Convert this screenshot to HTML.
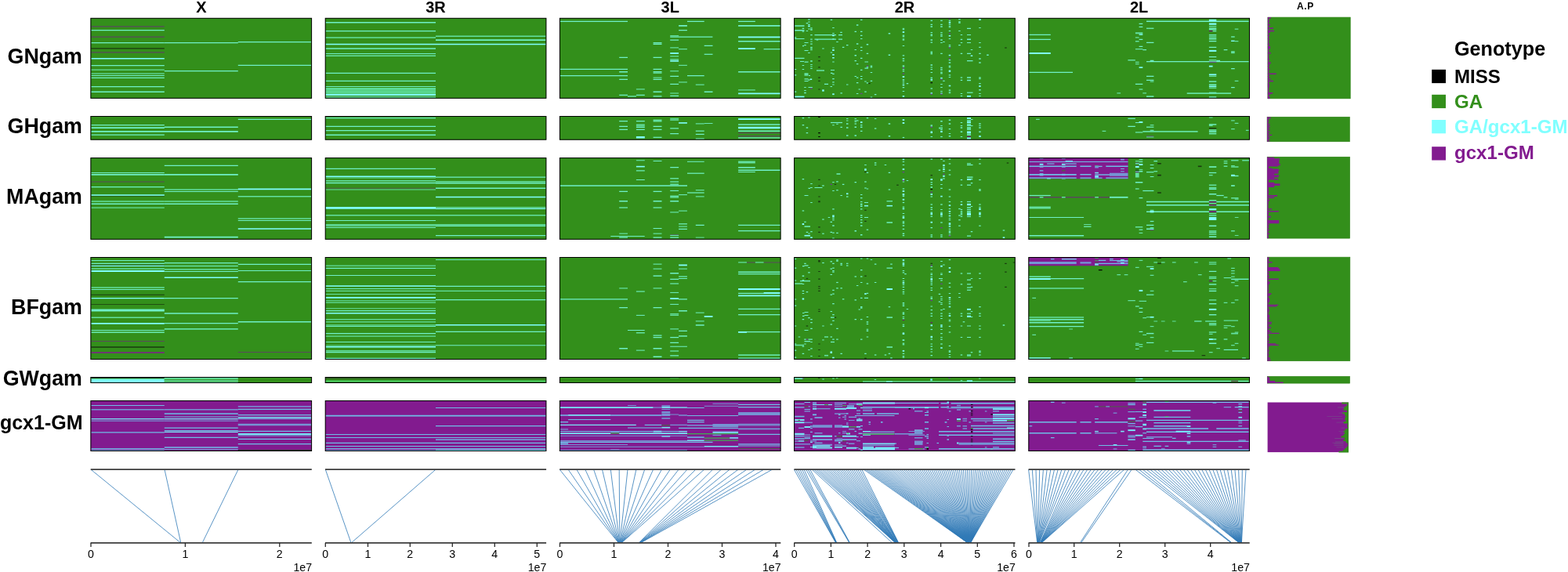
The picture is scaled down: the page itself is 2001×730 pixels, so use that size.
<!DOCTYPE html>
<html lang="en"><head><meta charset="utf-8"><title>Genotype heatmap</title>
<style>html,body{margin:0;padding:0;background:#fff}body{width:2001px;height:730px;overflow:hidden}svg{display:block}text{font-family:"Liberation Sans",sans-serif;fill:#000}.b{font-weight:bold}.t{font-size:14.2px}.rl{font-size:26.8px;font-weight:bold;text-anchor:end}.ct{font-size:20px;font-weight:bold;text-anchor:middle}.lg{font-size:24.1px;font-weight:bold}.bd{fill:none;stroke:#000;stroke-width:1}.ax{stroke:#3c3c3c;stroke-width:1.8;fill:none}.tk{stroke:#2a2a2a;stroke-width:1.3;fill:none}.ln{stroke:#3079b6;stroke-width:1.0;fill:none;stroke-opacity:.8}</style></head><body>
<svg width="2001" height="730" viewBox="0 0 2001 730">
<rect width="2001" height="730" fill="#fff"/>
<text class="ct" x="256.8" y="15.6">X</text>
<text class="ct" x="556" y="15.6">3R</text>
<text class="ct" x="855.2" y="15.6">3L</text>
<text class="ct" x="1154.5" y="15.6">2R</text>
<text class="ct" x="1453.6" y="15.6">2L</text>
<text class="b" x="1666" y="11.8" text-anchor="middle" style="font-size:12px;letter-spacing:.6px">A.P</text>
<text class="rl" x="104.9" y="81.1">GNgam</text>
<text class="rl" x="104.9" y="170.1">GHgam</text>
<text class="rl" x="104.9" y="260.1">MAgam</text>
<text class="rl" x="104.9" y="400.7">BFgam</text>
<text class="rl" x="104.9" y="491.5">GWgam</text>
<text class="rl" x="105.5" y="548.4" style="font-size:25px">gcx1-GM</text>
<g>
<rect x="115.7" y="23.1" width="282.1" height="102.4" fill="#338f1b"/>
<path fill="#5a4a5c" d="M116.3 33.3h93.5v1.2h-93.5z"/>
<path fill="#6ff0c8" d="M116.3 38.1h93.5v1.2h-93.5z"/>
<path fill="#5a4a5c" d="M116.3 46.5h93.5v1.2h-93.5z"/>
<path fill="#6ff0c8" d="M116.3 54h93.5v1.2h-93.5z"/>
<path fill="#1a3a10" d="M116.3 61.3h93.5v1.2h-93.5z"/>
<path fill="#5a4a5c" d="M116.3 66.3h93.5v1.2h-93.5z"/>
<path fill="#80ffff" d="M116.3 74.1h93.5v1.5h-93.5z"/>
<path fill="#6ff0c8" d="M116.3 83h93.5v1.2h-93.5z"/>
<path fill="#63e0a2" d="M116.3 88.5h93.5v1.2h-93.5z"/>
<path fill="#6ff0c8" d="M116.3 93.4h93.5v1.2h-93.5zM116.3 95.9h93.5v1h-93.5zM116.3 98.7h93.5v1.2h-93.5zM116.3 110h93.5v1.2h-93.5zM116.3 116.6h93.5v1.4h-93.5zM209.8 54h94v1.2h-94zM209.8 90.1h94v1.2h-94zM303.8 53h93.5v1.2h-93.5zM303.8 82.8h93.5v1.2h-93.5z"/>
<rect class="bd" x="115.9" y="23.3" width="281.7" height="102"/>
</g>
<g>
<rect x="415" y="23.1" width="282.1" height="102.4" fill="#338f1b"/>
<path fill="#6ff0c8" d="M415.6 28.1h140.4v1.5h-140.4zM415.6 39h140.4v1.2h-140.4z"/>
<path fill="#63e0a2" d="M415.6 47.2h140.4v1.5h-140.4z"/>
<path fill="#80ffff" d="M415.6 55.7h140.4v1.5h-140.4z"/>
<path fill="#6ff0c8" d="M415.6 61.2h140.4v1.6h-140.4zM415.6 67.9h140.4v1h-140.4z"/>
<path fill="#63e0a2" d="M415.6 70.4h140.4v1.5h-140.4z"/>
<path fill="#6ff0c8" d="M415.6 92.8h140.4v1.3h-140.4zM415.6 102.8h140.4v1.3h-140.4zM415.6 110.1h140.4v1h-140.4z"/>
<path fill="#63e0a2" d="M556 45.4h140.6v1.5h-140.6z"/>
<path fill="#6ff0c8" d="M556 50.3h140.6v1.6h-140.6z"/>
<path fill="#80ffff" d="M556 55.7h140.6v1.5h-140.6z"/>
<path fill="#55cf82" d="M415.6 112.1h140.4v7.4h-140.4z"/>
<path fill="#62e6a6" d="M415.6 112.8h140.4v1.3h-140.4z"/>
<path fill="#5cdc96" d="M415.6 115.9h140.4v1h-140.4z"/>
<path fill="#5fe09c" d="M415.6 118.3h140.4v1.1h-140.4z"/>
<path fill="#80ffff" d="M415.6 119.9h140.4v2.2h-140.4z"/>
<path fill="#6ff0c8" d="M415.6 123.2h140.4v1.2h-140.4z"/>
<rect class="bd" x="415.2" y="23.3" width="281.7" height="102"/>
</g>
<g>
<rect x="714.2" y="23.1" width="282.1" height="102.4" fill="#338f1b"/>
<path fill="#6ff0c8" d="M714.2 26.7h86.8v1.2h-86.8zM877 26.7h21.7v1.2h-21.7zM942.1 26.7h21.7v1.2h-21.7zM866.1 32.1h10.8v1.6h-10.8zM942.1 32.1h54.2v1.6h-54.2zM866.1 38h10.8v1.2h-10.8z"/>
<path fill="#63e0a2" d="M855.2 45h10.9v1.2h-10.9z"/>
<path fill="#6ff0c8" d="M855.2 46.4h54.2v1.4h-54.2z"/>
<path fill="#80ffff" d="M942.1 46.5h54.2v1.8h-54.2z"/>
<path fill="#6ff0c8" d="M855.2 50.4h10.9v1.4h-10.9zM942.1 52h54.2v1.4h-54.2zM833.6 54.1h10.9v1.2h-10.9zM833.6 55.7h10.9v1.2h-10.9zM898.7 57.8h10.8v1.2h-10.8z"/>
<path fill="#63e0a2" d="M855.2 60.2h10.9v1.4h-10.9zM866.1 62.1h10.8v1.2h-10.8z"/>
<path fill="#80ffff" d="M942.1 61.2h21.7v1.8h-21.7z"/>
<path fill="#6ff0c8" d="M974.6 62.1h21.7v1.2h-21.7z"/>
<path fill="#80ffff" d="M855.2 67.1h10.9v1.8h-10.9z"/>
<path fill="#6ff0c8" d="M898.7 68.7h10.8v1.2h-10.8z"/>
<path fill="#63e0a2" d="M855.2 71.2h10.9v1.3h-10.9z"/>
<path fill="#6ff0c8" d="M790.2 72.8h10.8v1.2h-10.8zM833.6 72.8h10.9v1.2h-10.9zM855.2 75.3h10.9v1.2h-10.9z"/>
<path fill="#80ffff" d="M855.2 77.1h10.9v1.6h-10.9z"/>
<path fill="#63e0a2" d="M866.1 82.8h10.8v1.2h-10.8z"/>
<path fill="#6ff0c8" d="M714.2 87.8h86.8v1.2h-86.8zM833.6 87.8h10.9v1.2h-10.9z"/>
<path fill="#63e0a2" d="M855.2 90.1h10.9v1.2h-10.9z"/>
<path fill="#6ff0c8" d="M790.2 91.1h10.8v1.3h-10.8zM833.6 91.1h10.9v1.3h-10.9zM942.1 91.1h54.2v1.3h-54.2z"/>
<path fill="#63e0a2" d="M833.6 92.7h10.9v1.2h-10.9z"/>
<path fill="#6ff0c8" d="M714.2 96h86.8v1.2h-86.8zM877 96h21.7v1.2h-21.7zM855.2 96.8h10.9v1.2h-10.9z"/>
<path fill="#63e0a2" d="M833.6 98.5h10.9v1.2h-10.9z"/>
<path fill="#6ff0c8" d="M790.2 100.8h10.8v1.2h-10.8zM833.6 100.8h10.9v1.2h-10.9z"/>
<path fill="#63e0a2" d="M866.1 104.3h10.8v1.2h-10.8z"/>
<path fill="#6ff0c8" d="M855.2 106.8h10.9v1.2h-10.9z"/>
<path fill="#63e0a2" d="M887.8 107.5h10.9v1.2h-10.9zM811.9 113.3h10.9v1.3h-10.9zM942.1 114.3h21.7v1.2h-21.7z"/>
<path fill="#6ff0c8" d="M833.6 116.6h10.9v1.3h-10.9zM898.7 116.6h10.8v1.3h-10.8z"/>
<path fill="#63e0a2" d="M855.2 118.4h10.9v1.2h-10.9z"/>
<path fill="#80ffff" d="M942.1 118.4h54.2v1.8h-54.2z"/>
<path fill="#6ff0c8" d="M790.2 120.8h10.8v1.2h-10.8zM811.9 120.8h10.9v1.2h-10.9z"/>
<path fill="#63e0a2" d="M801 122.2h10.9v1.5h-10.9z"/>
<path fill="#6ff0c8" d="M833.6 122.3h10.9v1.3h-10.9zM855.2 121.7h10.9v1.2h-10.9z"/>
<rect class="bd" x="714.4" y="23.3" width="281.7" height="102"/>
</g>
<g>
<rect x="1013.4" y="23.1" width="282.1" height="102.4" fill="#338f1b"/>
<path fill="#6ff0c8" d="M1014.2 32.2h12.3v1.6h-12.3zM1014.2 38.1h12.3v1.4h-12.3zM1014.2 48.9h12.3v1.2h-12.3zM1014.2 73.8h12.3v1.2h-12.3zM1013.9 47.2h2.4v1.2h-2.4zM1013.9 87.9h2.4v1.2h-2.4zM1039.5 44h27.5v1.2h-27.5zM1039.5 49.6h27.5v1.2h-27.5zM1070 44h5v1.2h-5zM1070 49.6h5v1.2h-5zM1026.5 53.9h5v1.2h-5zM1026.5 63.9h5v1.2h-5zM1026.5 78.5h5v1.2h-5zM1024 58.1h2v1.2h-2zM1026.2 57h2.5v1.2h-2.5zM1021 77.9h5v1.2h-5z"/>
<path fill="#63e0a2" d="M1042 89.2h10v1.6h-10z"/>
<path fill="#6ff0c8" d="M1103.5 78.4h4.5v1.2h-4.5zM1103.5 86.6h4.5v1.2h-4.5zM1060 88.9h5v1.2h-5zM1023.7 35.7h2.5v1.2h-2.5zM1023.7 39.6h2.5v1.2h-2.5zM1023.7 82.9h2.5v1.2h-2.5zM1023.7 87.9h2.5v1.2h-2.5zM1028.7 29.1h2.5v1.2h-2.5zM1028.7 38.9h2.5v1.2h-2.5zM1031.2 24.2h2.5v1.2h-2.5zM1031.2 27.4h2.5v1.2h-2.5zM1031.2 30.8h2.5v1.5h-2.5z"/>
<path fill="#80ffff" d="M1031.2 32.7h2.5v1.6h-2.5z"/>
<path fill="#6ff0c8" d="M1031.2 36.4h2.5v1.2h-2.5zM1031.2 66.9h2.5v1.2h-2.5zM1034.2 35.2h2.5v1.2h-2.5z"/>
<path fill="#63e0a2" d="M1034.2 37h2.5v2h-2.5z"/>
<path fill="#6ff0c8" d="M1034.2 44h2.5v1.2h-2.5zM1034.2 49.6h2.5v1.2h-2.5zM1034.2 52.4h2.5v1.2h-2.5zM1034.2 55.6h2.5v1.2h-2.5z"/>
<path fill="#63e0a2" d="M1034.2 59.8h2.5v2.5h-2.5zM1034.2 62.8h2.5v1.5h-2.5zM1034.2 77h2.5v2h-2.5z"/>
<path fill="#6ff0c8" d="M1034.2 81.9h2.5v1.2h-2.5zM1034.2 84.4h2.5v1.2h-2.5zM1034.2 86.9h2.5v1.2h-2.5z"/>
<path fill="#1a3a10" d="M1044.2 72h2.5v1.2h-2.5zM1044.2 77h2.5v1.2h-2.5zM1044.2 85.2h2.5v1.2h-2.5z"/>
<path fill="#6ff0c8" d="M1041.7 50.2h2.5v1.2h-2.5zM1049.2 61.4h2.5v1.2h-2.5zM1059.7 24.8h2.5v1.2h-2.5zM1059.7 66.4h2.5v1.2h-2.5zM1062.2 34.9h2.5v1.2h-2.5zM1062.2 41.9h2.5v1.2h-2.5z"/>
<path fill="#80ffff" d="M1062.2 44.4h2.5v1.8h-2.5z"/>
<path fill="#6ff0c8" d="M1062.2 49.2h2.5v1.2h-2.5zM1062.2 60.4h2.5v1.2h-2.5z"/>
<path fill="#80ffff" d="M1062.2 63.1h2.5v1.8h-2.5zM1062.2 68.9h2.5v1.8h-2.5zM1062.2 73h2.5v1.6h-2.5z"/>
<path fill="#6ff0c8" d="M1062.2 78.4h2.5v1.2h-2.5zM1067.2 52.9h2.5v1.2h-2.5zM1072.2 40.7h2.5v1.2h-2.5zM1074.9 59.7h2.5v1.2h-2.5zM1080 57h2.5v1.2h-2.5zM1090.5 39.7h2.5v1.2h-2.5zM1090.5 62.9h2.5v1.2h-2.5zM1090.5 70h2.5v1.6h-2.5zM1090.5 77h2.5v1.2h-2.5zM1092.9 31.2h2.5v1.6h-2.5zM1092.9 55.2h2.5v1.5h-2.5zM1092.9 81h2.5v1.2h-2.5zM1098 24.8h2.5v1.2h-2.5zM1098 39.7h2.5v1.2h-2.5zM1098 44.7h2.5v1.2h-2.5zM1098 48.9h2.5v1.2h-2.5zM1098 59.7h2.5v1.2h-2.5zM1098 63.9h2.5v1.2h-2.5zM1098 73.8h2.5v1.2h-2.5zM1098 88.7h2.5v1.2h-2.5zM1105.7 55.9h2.5v1.6h-2.5zM1105.7 67.8h2.5v1.2h-2.5z"/>
<path fill="#6d3f95" d="M1105.7 83.6h2.5v1.2h-2.5z"/>
<path fill="#6ff0c8" d="M1105.7 85.2h2.5v1.2h-2.5z"/>
<path fill="#63e0a2" d="M1110.7 83.5h2.5v3h-2.5z"/>
<path fill="#6ff0c8" d="M1110.7 91.9h2.5v1.2h-2.5zM1133.7 41.9h2.5v1.6h-2.5zM1133.7 69.5h2.5v1.4h-2.5z"/>
<path fill="#63e0a2" d="M1151.7 35.8h2.5v2.5h-2.5z"/>
<path fill="#80ffff" d="M1151.7 40.1h2.5v1.8h-2.5z"/>
<path fill="#63e0a2" d="M1151.7 44.5h2.5v3h-2.5zM1151.7 49.2h2.5v2.5h-2.5z"/>
<path fill="#6ff0c8" d="M1151.7 57.9h2.5v1.2h-2.5zM1151.7 70.2h2.5v1.2h-2.5zM1151.7 74.2h2.5v1.6h-2.5zM1151.7 77h2.5v1.2h-2.5z"/>
<path fill="#63e0a2" d="M1151.7 83.2h2.5v2.5h-2.5z"/>
<path fill="#6d3f95" d="M1151.7 86.1h2.5v1.2h-2.5z"/>
<path fill="#6ff0c8" d="M1151.7 87.9h2.5v1.2h-2.5zM1151.7 90.1h2.5v1.2h-2.5zM1187.5 25.7h2.5v1.2h-2.5zM1187.5 30.7h2.5v1.2h-2.5zM1187.5 33.2h2.5v1.6h-2.5zM1187.5 40.9h2.5v1.2h-2.5z"/>
<path fill="#63e0a2" d="M1187.5 43.3h2.5v3h-2.5z"/>
<path fill="#6ff0c8" d="M1187.5 50.2h2.5v1.6h-2.5zM1187.5 53.6h2.5v1.2h-2.5z"/>
<path fill="#63e0a2" d="M1187.5 65.5h2.5v4h-2.5z"/>
<path fill="#6ff0c8" d="M1187.5 82.2h2.5v1.6h-2.5zM1187.5 85.4h2.5v1.2h-2.5zM1187.5 87.9h2.5v1.2h-2.5zM1187.5 91.9h2.5v1.2h-2.5zM1200.2 25.7h2.5v1.2h-2.5zM1200.2 30.7h2.5v1.2h-2.5zM1200.2 33.2h2.5v1.6h-2.5zM1200.2 40.9h2.5v1.2h-2.5zM1200.2 43.2h2.5v1.2h-2.5zM1200.2 45.2h2.5v1.5h-2.5zM1200.2 50.2h2.5v1.6h-2.5zM1200.2 53.9h2.5v1.2h-2.5zM1200.2 67.8h2.5v1.2h-2.5zM1200.2 85.7h2.5v1.6h-2.5zM1200.2 88.2h2.5v1.6h-2.5z"/>
<path fill="#63e0a2" d="M1200.2 91.5h2.5v3h-2.5z"/>
<path fill="#6ff0c8" d="M1203.2 52.9h2.5v1.2h-2.5zM1013.9 95.2h2.4v1.2h-2.4zM1013.9 116.6h2.4v1.2h-2.4z"/>
<path fill="#80ffff" d="M1014.2 122.6h12.3v1.8h-12.3z"/>
<path fill="#63e0a2" d="M1026.5 93.2h5v3.5h-5z"/>
<path fill="#6ff0c8" d="M1026.5 100.2h5v1.2h-5zM1026.5 102.9h5v1.2h-5zM1032 95.9h2v1.2h-2z"/>
<path fill="#80ffff" d="M1033.7 100.4h2.5v1.6h-2.5z"/>
<path fill="#6ff0c8" d="M1031.2 101.4h2.5v1.2h-2.5z"/>
<path fill="#1a3a10" d="M1044.2 98.5h2.5v1.2h-2.5zM1044.2 102.7h2.5v1.2h-2.5zM1044.2 113.4h2.5v1.2h-2.5z"/>
<path fill="#6ff0c8" d="M1052 106.7h5v1.2h-5zM1060 92.7h2.5v1.2h-2.5zM1062.2 93.7h2.5v1.2h-2.5zM1062.2 100.1h2.5v1.2h-2.5zM1062.2 104.2h2.5v1.2h-2.5zM1062.2 107.4h2.5v1.2h-2.5z"/>
<path fill="#80ffff" d="M1062.2 119.3h2.5v1.8h-2.5z"/>
<path fill="#6ff0c8" d="M1059.5 109.9h2.5v1.2h-2.5zM1026.2 110.9h2.5v1.2h-2.5zM1026.2 114.9h2.5v1.2h-2.5zM1026.2 117.7h2.5v1.6h-2.5zM1031.5 110.9h5.3v1.2h-5.3z"/>
<path fill="#6d3f95" d="M1034.2 112.4h2.5v1.2h-2.5z"/>
<path fill="#80ffff" d="M1049.2 114.3h2.5v2.4h-2.5z"/>
<path fill="#6ff0c8" d="M1072.4 118.2h2.5v1.2h-2.5zM1080 107.4h2.5v1.2h-2.5zM1090.5 96.9h2.5v1.2h-2.5zM1092.9 98.5h2.5v1.2h-2.5zM1092.9 105h2.5v1.2h-2.5zM1092.9 118.9h2.5v1.2h-2.5zM1098 96.9h2.5v1.2h-2.5zM1098 100.1h2.5v1.2h-2.5z"/>
<path fill="#6d3f95" d="M1098 118.9h2.5v1.2h-2.5z"/>
<path fill="#6ff0c8" d="M1095.5 113.4h2.5v1.2h-2.5zM1103.2 103.4h2.5v1.2h-2.5zM1103.2 116.6h2.5v1.2h-2.5zM1105.7 105.2h2.5v1.2h-2.5z"/>
<path fill="#1a3a10" d="M1108.2 105.9h2.5v1.2h-2.5z"/>
<path fill="#6ff0c8" d="M1110.7 102.7h2.5v1.2h-2.5zM1110.7 123.4h2.5v1.2h-2.5zM1115.9 120h2.5v1.2h-2.5z"/>
<path fill="#6d3f95" d="M1151.7 93.4h2.5v1.2h-2.5z"/>
<path fill="#80ffff" d="M1151.7 97h2.5v2h-2.5z"/>
<path fill="#6ff0c8" d="M1151.7 100.9h2.5v1.2h-2.5zM1151.7 102.7h2.5v1.2h-2.5zM1151.7 105.2h2.5v1.2h-2.5z"/>
<path fill="#80ffff" d="M1151.7 107.7h2.5v1.6h-2.5z"/>
<path fill="#6ff0c8" d="M1151.7 111h2.5v1.2h-2.5zM1151.7 115.9h2.5v1.2h-2.5z"/>
<path fill="#80ffff" d="M1151.7 122h2.5v1.6h-2.5z"/>
<path fill="#6ff0c8" d="M1156.7 106h2.5v1.2h-2.5zM1187.5 98.7h2.5v1.2h-2.5z"/>
<path fill="#80ffff" d="M1187.5 100.8h2.5v2h-2.5z"/>
<path fill="#000000" d="M1187.5 105h2.5v1.2h-2.5z"/>
<path fill="#6ff0c8" d="M1187.5 112.4h2.5v1.2h-2.5z"/>
<path fill="#80ffff" d="M1187.5 118.2h2.5v1.5h-2.5z"/>
<path fill="#6d3f95" d="M1187.5 119.6h2.5v1.2h-2.5z"/>
<path fill="#80ffff" d="M1200.2 98.9h2.5v1.6h-2.5z"/>
<path fill="#6d3f95" d="M1200.2 100.9h2.5v1.2h-2.5z"/>
<path fill="#6ff0c8" d="M1200.2 106.9h2.5v1.2h-2.5zM1200.2 110.9h2.5v1.2h-2.5zM1200.2 115.9h2.5v1.2h-2.5z"/>
<path fill="#80ffff" d="M1200.2 118.4h2.5v1.2h-2.5z"/>
<path fill="#6d3f95" d="M1200.2 119.6h2.5v1.2h-2.5z"/>
<path fill="#6ff0c8" d="M1203.2 102.7h2.5v1.2h-2.5z"/>
<path fill="#6d3f95" d="M1210.7 23.6h2.5v1.2h-2.5z"/>
<path fill="#6ff0c8" d="M1210.7 25.9h2.5v1.2h-2.5z"/>
<path fill="#80ffff" d="M1210.7 27.8h2.5v2h-2.5z"/>
<path fill="#6ff0c8" d="M1210.7 30.7h2.5v1.2h-2.5z"/>
<path fill="#63e0a2" d="M1210.7 32.8h2.5v2.5h-2.5z"/>
<path fill="#6ff0c8" d="M1210.7 38.9h2.5v1.2h-2.5z"/>
<path fill="#6d3f95" d="M1210.7 42.1h2.5v1.2h-2.5z"/>
<path fill="#80ffff" d="M1210.7 44.9h2.5v1.6h-2.5z"/>
<path fill="#6ff0c8" d="M1210.7 48.9h2.5v1.2h-2.5zM1210.7 56.9h2.5v1.2h-2.5zM1210.7 58.7h2.5v1.2h-2.5z"/>
<path fill="#6d3f95" d="M1210.7 60.4h2.5v1.2h-2.5z"/>
<path fill="#80ffff" d="M1210.7 69.8h2.5v1.5h-2.5z"/>
<path fill="#6d3f95" d="M1210.7 74.4h2.5v1.2h-2.5z"/>
<path fill="#6ff0c8" d="M1210.7 76.1h2.5v1.2h-2.5zM1210.7 79.2h2.5v1.5h-2.5z"/>
<path fill="#63e0a2" d="M1210.7 83.5h2.5v3h-2.5z"/>
<path fill="#80ffff" d="M1210.7 89.5h2.5v2.4h-2.5z"/>
<path fill="#6ff0c8" d="M1223.2 24.1h2.5v1.2h-2.5z"/>
<path fill="#63e0a2" d="M1223.2 27h2.5v3h-2.5z"/>
<path fill="#6ff0c8" d="M1223.2 38.9h2.5v1.2h-2.5zM1223.2 57.1h2.5v1.2h-2.5zM1225.7 43.9h2.5v1.2h-2.5zM1225.7 49.7h2.5v1.2h-2.5zM1225.7 53.9h2.5v1.2h-2.5zM1225.7 67.8h2.5v1.2h-2.5zM1234 35.7h5v1.2h-5zM1234 43.9h5v1.2h-5zM1234 49.5h5v1.5h-5zM1234 53.9h5v1.2h-5zM1234 67.8h5v1.2h-5zM1234 77h7.5v1.2h-7.5zM1238.7 62.9h2.5v1.2h-2.5z"/>
<path fill="#80ffff" d="M1238.7 70.5h2.5v1.6h-2.5zM1249.2 24.1h2.5v1.8h-2.5z"/>
<path fill="#6ff0c8" d="M1249.2 34.9h2.5v1.2h-2.5zM1249.2 53.9h2.5v1.2h-2.5zM1249.2 59.7h2.5v1.2h-2.5zM1249.2 67.8h2.5v1.2h-2.5zM1249.2 74.2h2.5v1.5h-2.5zM1249.2 79.2h2.5v1.5h-2.5zM1259.2 69.5h2.5v1.5h-2.5z"/>
<path fill="#1a3a10" d="M1282.2 60.4h2.5v1.2h-2.5z"/>
<path fill="#6ff0c8" d="M1210.7 95.2h2.5v1.2h-2.5zM1210.7 97.9h2.5v1.2h-2.5z"/>
<path fill="#80ffff" d="M1210.7 108.7h2.5v1.6h-2.5z"/>
<path fill="#63e0a2" d="M1210.7 114.3h2.5v2h-2.5zM1210.7 117.2h2.5v2h-2.5zM1225.7 98.3h2.5v1.5h-2.5z"/>
<path fill="#6ff0c8" d="M1225.7 101.8h2.5v1.2h-2.5zM1225.7 118.9h2.5v1.2h-2.5zM1225.7 121.9h2.5v1.2h-2.5zM1234 98.3h5v1.5h-5zM1234 101.7h5v1.5h-5z"/>
<path fill="#80ffff" d="M1234 121.9h5v1.8h-5z"/>
<path fill="#63e0a2" d="M1234 117.4h7.5v1.6h-7.5zM1249.2 98.3h2.5v3h-2.5z"/>
<path fill="#6ff0c8" d="M1249.2 106h2.5v1.2h-2.5z"/>
<path fill="#80ffff" d="M1249.2 109.1h2.5v1.8h-2.5z"/>
<path fill="#6ff0c8" d="M1249.2 114h2.5v1.5h-2.5zM1249.2 118.9h2.5v1.2h-2.5zM1249.2 121.9h2.5v1.2h-2.5z"/>
<rect class="bd" x="1013.6" y="23.3" width="281.7" height="102"/>
</g>
<g>
<rect x="1312.6" y="23.1" width="282.1" height="102.4" fill="#338f1b"/>
<path fill="#6ff0c8" d="M1313.1 43.8h27.7v1.2h-27.7zM1313.1 49.7h27.7v1.2h-27.7z"/>
<path fill="#80ffff" d="M1313.1 67h27.7v2h-27.7z"/>
<path fill="#6ff0c8" d="M1313.1 91.8h55.9v1.2h-55.9z"/>
<path fill="#63e0a2" d="M1425.4 118.3h4.7v1.2h-4.7zM1439.4 76h9.4v1.4h-9.4zM1448.9 47.2h4.7v1.4h-4.7zM1448.9 52h4.7v1.4h-4.7zM1448.9 78.7h4.7v1.2h-4.7zM1448.9 81h4.7v1.2h-4.7zM1448.9 41.3h9.4v2h-9.4zM1448.9 62.1h9.4v1.2h-9.4z"/>
<path fill="#6ff0c8" d="M1448.9 106.8h9.4v1.2h-9.4zM1453.6 29.8h4.7v1.2h-4.7zM1453.6 33.8h4.7v1.2h-4.7z"/>
<path fill="#80ffff" d="M1453.6 43.4h4.7v1.4h-4.7z"/>
<path fill="#6ff0c8" d="M1453.6 49.7h4.7v1.2h-4.7zM1453.6 58.8h4.7v1.2h-4.7z"/>
<path fill="#80ffff" d="M1453.6 85.3h4.7v1.6h-4.7z"/>
<path fill="#63e0a2" d="M1453.6 113.3h4.7v1.4h-4.7z"/>
<path fill="#6ff0c8" d="M1458.3 63h4.7v1.2h-4.7z"/>
<path fill="#63e0a2" d="M1458.3 118.3h4.7v1.2h-4.7zM1463 35.6h9.4v1.4h-9.4z"/>
<path fill="#6ff0c8" d="M1463 53.8h9.4v1.2h-9.4zM1463 96.8h9.4v1.2h-9.4zM1463 101.8h9.4v1.2h-9.4z"/>
<path fill="#63e0a2" d="M1463 122.3h9.4v1.6h-9.4zM1467.7 103.5h4.7v1.2h-4.7z"/>
<path fill="#6ff0c8" d="M1467.7 76.8h4.7v1.2h-4.7zM1463 26.6h130.6v1.4h-130.6zM1463 78h130.6v1.2h-130.6z"/>
<path fill="#80ffff" d="M1542.9 24.7h9.4v2.6h-9.4zM1542.9 29.4h9.4v2.4h-9.4z"/>
<path fill="#63e0a2" d="M1542.9 33.1h9.4v1.2h-9.4zM1542.9 35.3h9.4v2h-9.4z"/>
<path fill="#6ff0c8" d="M1542.9 37.1h9.4v1.2h-9.4zM1542.9 43.9h9.4v1.4h-9.4z"/>
<path fill="#63e0a2" d="M1542.9 46h9.4v1.2h-9.4z"/>
<path fill="#6ff0c8" d="M1542.9 48h9.4v1.4h-9.4z"/>
<path fill="#63e0a2" d="M1542.9 49.7h9.4v1.2h-9.4z"/>
<path fill="#6ff0c8" d="M1542.9 52.1h9.4v1.2h-9.4zM1542.9 59.7h9.4v1.2h-9.4z"/>
<path fill="#80ffff" d="M1542.9 63.9h9.4v2h-9.4z"/>
<path fill="#6ff0c8" d="M1542.9 72h9.4v1.2h-9.4z"/>
<path fill="#63e0a2" d="M1542.9 76h9.4v1.4h-9.4z"/>
<path fill="#80ffff" d="M1542.9 94.4h9.4v1.8h-9.4z"/>
<path fill="#63e0a2" d="M1542.9 96.8h9.4v1.2h-9.4z"/>
<path fill="#6ff0c8" d="M1542.9 103.4h9.4v1.4h-9.4z"/>
<path fill="#63e0a2" d="M1542.9 107.1h9.4v2h-9.4z"/>
<path fill="#80ffff" d="M1542.9 109.5h9.4v1.6h-9.4z"/>
<path fill="#63e0a2" d="M1542.9 111.7h9.4v1.2h-9.4z"/>
<path fill="#80ffff" d="M1542.9 117.7h9.4v1.4h-9.4z"/>
<path fill="#6ff0c8" d="M1542.9 123.2h9.4v1.4h-9.4z"/>
<path fill="#6a1a6a" d="M1542.9 39h4.7v1.2h-4.7z"/>
<path fill="#80ffff" d="M1542.9 83.7h4.7v1.8h-4.7z"/>
<path fill="#6ff0c8" d="M1547.6 39h4.7v1.2h-4.7z"/>
<path fill="#6d3f95" d="M1542.9 78.8h9.4v1h-9.4z"/>
<path fill="#6ff0c8" d="M1552.3 76.8h4.7v1.2h-4.7z"/>
<path fill="#63e0a2" d="M1514.7 118.3h56.4v1.6h-56.4z"/>
<path fill="#6ff0c8" d="M1561.7 63h4.7v1.2h-4.7z"/>
<path fill="#63e0a2" d="M1571.1 46.2h4.6v1.6h-4.6z"/>
<path fill="#80ffff" d="M1571.1 51.6h4.6v1.4h-4.6z"/>
<path fill="#63e0a2" d="M1571.1 65.2h4.6v3h-4.6z"/>
<path fill="#6ff0c8" d="M1571.1 87h4.6v1.2h-4.6zM1571.1 111h4.6v1.2h-4.6z"/>
<path fill="#63e0a2" d="M1575.7 36.4h4.7v1.4h-4.7zM1575.7 52.1h4.7v1.2h-4.7zM1575.7 102.8h4.7v1.2h-4.7z"/>
<rect class="bd" x="1312.8" y="23.3" width="281.7" height="102"/>
</g>
<g>
<rect x="115.7" y="148.3" width="282.1" height="30.1" fill="#338f1b"/>
<path fill="#6ff0c8" d="M116.3 159.1h93.5v1.2h-93.5zM116.3 162.3h93.5v1.6h-93.5zM116.3 167.1h93.5v1.6h-93.5zM116.3 171.5h93.5v1.2h-93.5zM209.8 161.5h94v1.6h-94zM209.8 167.1h94v1.6h-94zM303.8 151.8h93.5v1.2h-93.5z"/>
<rect class="bd" x="115.9" y="148.5" width="281.7" height="29.7"/>
</g>
<g>
<rect x="415" y="148.3" width="282.1" height="30.1" fill="#338f1b"/>
<path fill="#6ff0c8" d="M415.6 150h140.4v1.2h-140.4zM415.6 160.8h140.4v1.2h-140.4zM415.6 165.9h140.4v1.3h-140.4zM415.6 171.4h140.4v1.5h-140.4z"/>
<rect class="bd" x="415.2" y="148.5" width="281.7" height="29.7"/>
</g>
<g>
<rect x="714.2" y="148.3" width="282.1" height="30.1" fill="#338f1b"/>
<path fill="#6ff0c8" d="M790.2 154.1h10.8v1.2h-10.8zM811.9 154.1h10.9v1.2h-10.9zM790.2 160.8h10.8v1.2h-10.8zM833.6 160.8h10.9v1.2h-10.9zM790.2 164.8h10.8v1.2h-10.8zM811.9 164.8h10.9v1.2h-10.9zM833.6 164.8h10.9v1.2h-10.9z"/>
<path fill="#63e0a2" d="M811.9 158.6h10.9v1.4h-10.9zM811.9 160.3h10.9v1.2h-10.9z"/>
<path fill="#6ff0c8" d="M811.9 161.8h10.9v1.2h-10.9z"/>
<path fill="#80ffff" d="M811.9 174h10.9v2.5h-10.9z"/>
<path fill="#63e0a2" d="M833.6 152.5h10.9v3h-10.9z"/>
<path fill="#6ff0c8" d="M833.6 174.7h10.9v1.2h-10.9z"/>
<path fill="#63e0a2" d="M855.2 150.8h10.9v1.2h-10.9z"/>
<path fill="#6ff0c8" d="M855.2 152.5h10.9v1.2h-10.9z"/>
<path fill="#63e0a2" d="M855.2 163.1h10.9v1.5h-10.9z"/>
<path fill="#6ff0c8" d="M855.2 170h10.9v1.2h-10.9z"/>
<path fill="#80ffff" d="M866.1 156.1h10.8v1.6h-10.8z"/>
<path fill="#63e0a2" d="M887.8 157.3h10.9v1.3h-10.9zM887.8 166.6h10.9v1.3h-10.9z"/>
<path fill="#6ff0c8" d="M887.8 170.8h10.9v1.2h-10.9z"/>
<path fill="#63e0a2" d="M887.8 176.3h10.9v1.4h-10.9z"/>
<path fill="#6ff0c8" d="M898.7 157h10.8v0.9h-10.8z"/>
<path fill="#80ffff" d="M942.1 150.9h54.2v2h-54.2z"/>
<path fill="#6ff0c8" d="M942.1 158.2h54.2v1.6h-54.2z"/>
<path fill="#80ffff" d="M942.1 161.7h54.2v2.6h-54.2z"/>
<path fill="#6ff0c8" d="M942.1 166.6h54.2v1.4h-54.2z"/>
<path fill="#5a4a5c" d="M942.1 169h54.2v1.2h-54.2zM942.1 173.1h54.2v1.2h-54.2z"/>
<path fill="#6ff0c8" d="M942.1 175.2h54.2v1.4h-54.2z"/>
<rect class="bd" x="714.4" y="148.5" width="281.7" height="29.7"/>
</g>
<g>
<rect x="1013.4" y="148.3" width="282.1" height="30.1" fill="#338f1b"/>
<path fill="#6ff0c8" d="M1023.7 150h2.5v1.2h-2.5zM1023.7 159.1h2.5v1.2h-2.5zM1028.7 162.2h2.5v1.5h-2.5zM1028.7 169.1h2.5v1.2h-2.5z"/>
<path fill="#63e0a2" d="M1031.2 149.4h2.5v1.2h-2.5z"/>
<path fill="#000000" d="M1044.2 148.9h2.5v1.2h-2.5zM1044.2 169.1h2.5v1.2h-2.5zM1044.2 173.9h2.5v1.2h-2.5z"/>
<path fill="#6ff0c8" d="M1060 155.9h15v1.2h-15z"/>
<path fill="#63e0a2" d="M1062.2 159.1h2.5v1.2h-2.5zM1067.2 157.7h2.5v1.2h-2.5z"/>
<path fill="#6ff0c8" d="M1072.4 161.7h2.5v1.2h-2.5zM1080 150.9h2.5v1.2h-2.5z"/>
<path fill="#63e0a2" d="M1080 153.4h2.5v1.2h-2.5z"/>
<path fill="#6ff0c8" d="M1080 157.2h2.5v1.5h-2.5zM1080 162.2h2.5v1.5h-2.5zM1080 172.2h2.5v1.5h-2.5zM1090.5 150.9h2.5v1.2h-2.5z"/>
<path fill="#63e0a2" d="M1090.5 154.9h2.5v1.2h-2.5zM1090.5 157.2h2.5v1.5h-2.5z"/>
<path fill="#6ff0c8" d="M1090.5 161.6h2.5v1.5h-2.5zM1090.5 172.2h2.5v1.5h-2.5z"/>
<path fill="#63e0a2" d="M1090.5 153.2h5v1.5h-5z"/>
<path fill="#80ffff" d="M1098 155.1h2.5v2h-2.5z"/>
<path fill="#6ff0c8" d="M1098 159.1h2.5v1.2h-2.5zM1098 161.6h2.5v1.5h-2.5zM1098 166.7h2.5v1.2h-2.5zM1105.7 150h2.5v1.2h-2.5zM1115.9 150.9h2.5v1.2h-2.5z"/>
<path fill="#63e0a2" d="M1115.9 163.2h2.5v1.6h-2.5z"/>
<path fill="#6ff0c8" d="M1133.7 157.2h2.5v1.5h-2.5zM1133.7 172.9h2.5v1.5h-2.5z"/>
<path fill="#80ffff" d="M1151.7 152.1h2.5v1.8h-2.5zM1151.7 156h2.5v2h-2.5z"/>
<path fill="#6ff0c8" d="M1151.7 174.9h2.5v1.2h-2.5z"/>
<path fill="#63e0a2" d="M1187.5 159.2h2.5v2.5h-2.5z"/>
<path fill="#6d3f95" d="M1187.5 161.7h2.5v1.2h-2.5z"/>
<path fill="#80ffff" d="M1187.5 167.5h2.5v2.6h-2.5z"/>
<path fill="#6ff0c8" d="M1187.5 173.9h2.5v1.2h-2.5zM1200.2 153.9h2.5v1.5h-2.5zM1200.2 159.9h2.5v1.2h-2.5zM1200.2 164.9h2.5v1.2h-2.5z"/>
<path fill="#80ffff" d="M1200.2 166.9h2.5v2.2h-2.5z"/>
<path fill="#6ff0c8" d="M1200.2 173.9h2.5v1.2h-2.5z"/>
<path fill="#63e0a2" d="M1198 162.5h5v2h-5z"/>
<path fill="#6ff0c8" d="M1210.7 152.4h2.5v1.5h-2.5zM1210.7 157.2h2.5v1.5h-2.5zM1210.7 164.1h2.5v1.2h-2.5zM1210.7 169.9h2.5v1.2h-2.5zM1210.7 172.9h2.5v1.5h-2.5zM1225.7 155.9h2.5v1.2h-2.5zM1225.7 159.9h2.5v1.2h-2.5zM1225.7 162.2h2.5v1.5h-2.5zM1225.7 167.6h2.5v1.5h-2.5zM1225.7 173.9h2.5v1.2h-2.5z"/>
<path fill="#80ffff" d="M1234 150h5v2h-5z"/>
<path fill="#63e0a2" d="M1234 153h5v2h-5z"/>
<path fill="#80ffff" d="M1234 155.2h5v2h-5z"/>
<path fill="#63e0a2" d="M1234 158h5v3h-5zM1234 162h5v4h-5z"/>
<path fill="#80ffff" d="M1234 167.5h5v3h-5z"/>
<path fill="#63e0a2" d="M1234 171h5v2h-5z"/>
<path fill="#6a1a6a" d="M1234 173.8h5v1.4h-5z"/>
<path fill="#80ffff" d="M1234 175.5h5v2h-5z"/>
<path fill="#6ff0c8" d="M1234 159.9h7.5v1.2h-7.5zM1239 151.9h2.5v1.2h-2.5zM1249.2 157.2h2.5v1.5h-2.5zM1249.2 159.9h2.5v1.2h-2.5zM1249.2 162.2h2.5v1.5h-2.5zM1249.2 167.6h2.5v1.5h-2.5z"/>
<path fill="#80ffff" d="M1249.2 173h2.5v2h-2.5z"/>
<rect class="bd" x="1013.6" y="148.5" width="281.7" height="29.7"/>
</g>
<g>
<rect x="1312.6" y="148.3" width="282.1" height="30.1" fill="#338f1b"/>
<path fill="#63e0a2" d="M1322 151.8h4.7v1.2h-4.7zM1406.6 166.7h4.7v1.2h-4.7z"/>
<path fill="#6ff0c8" d="M1439.4 150.7h9.4v1.4h-9.4zM1439.4 160.8h9.4v1.2h-9.4zM1448.9 155.9h9.4v1h-9.4z"/>
<path fill="#63e0a2" d="M1448.9 168.2h9.4v1.4h-9.4z"/>
<path fill="#80ffff" d="M1453.6 155h4.7v1.4h-4.7z"/>
<path fill="#63e0a2" d="M1458.3 167.1h70.3v1.6h-70.3zM1467.7 159h4.7v1.2h-4.7zM1467.7 165.8h4.7v1.2h-4.7zM1463 161.5h9.4v1.6h-9.4z"/>
<path fill="#6d3f95" d="M1463 173.5h9.4v1h-9.4z"/>
<path fill="#63e0a2" d="M1463 174.5h9.4v1h-9.4zM1542.9 149.4h4.7v1.2h-4.7zM1542.9 159.8h4.7v1.2h-4.7zM1542.9 158.1h9.4v1.6h-9.4z"/>
<path fill="#1a3a10" d="M1542.9 163h9.4v1.4h-9.4z"/>
<path fill="#63e0a2" d="M1542.9 165.2h9.4v1.4h-9.4z"/>
<path fill="#6ff0c8" d="M1542.9 166.8h9.4v1.2h-9.4z"/>
<path fill="#63e0a2" d="M1542.9 168.3h9.4v1.2h-9.4zM1542.9 170h9.4v1.4h-9.4zM1571.1 153.2h4.6v1.4h-4.6zM1571.1 164h4.6v1.2h-4.6zM1575.7 156.8h4.7v1.2h-4.7zM1589.9 165.8h3.7v1.2h-3.7z"/>
<rect class="bd" x="1312.8" y="148.5" width="281.7" height="29.7"/>
</g>
<g>
<rect x="115.7" y="201.4" width="282.1" height="104.1" fill="#338f1b"/>
<path fill="#6ff0c8" d="M116.3 220h93.5v0.9h-93.5zM116.3 222.1h93.5v1.6h-93.5z"/>
<path fill="#5a4a5c" d="M116.3 231.4h93.5v1.2h-93.5z"/>
<path fill="#6ff0c8" d="M116.3 238h93.5v1.2h-93.5z"/>
<path fill="#80ffff" d="M116.3 248.2h93.5v1.6h-93.5z"/>
<path fill="#1a3a10" d="M116.3 250h93.5v0.6h-93.5z"/>
<path fill="#63e0a2" d="M116.3 256.3h93.5v1.4h-93.5z"/>
<path fill="#6ff0c8" d="M116.3 259.4h93.5v1.5h-93.5z"/>
<path fill="#63e0a2" d="M116.3 264.4h93.5v1.4h-93.5z"/>
<path fill="#6ff0c8" d="M209.8 210.7h94v1.2h-94zM209.8 222.1h94v1.6h-94z"/>
<path fill="#63e0a2" d="M209.8 241.3h94v1.4h-94z"/>
<path fill="#6ff0c8" d="M209.8 243.9h94v1h-94z"/>
<path fill="#63e0a2" d="M209.8 256.3h94v1.4h-94z"/>
<path fill="#6ff0c8" d="M209.8 259.4h94v1.5h-94zM209.8 301.8h94v1.8h-94z"/>
<path fill="#80ffff" d="M303.8 240.6h93.5v1.6h-93.5z"/>
<path fill="#63e0a2" d="M303.8 250.1h93.5v1.5h-93.5zM303.8 278.3h93.5v1.4h-93.5z"/>
<path fill="#6ff0c8" d="M303.8 281.1h93.5v1h-93.5z"/>
<path fill="#80ffff" d="M303.8 291.2h93.5v1.6h-93.5z"/>
<rect class="bd" x="115.9" y="201.6" width="281.7" height="103.7"/>
</g>
<g>
<rect x="415" y="201.4" width="282.1" height="104.1" fill="#338f1b"/>
<path fill="#6ff0c8" d="M415.6 214.8h140.4v1.2h-140.4z"/>
<path fill="#80ffff" d="M415.6 224.4h140.4v1.5h-140.4z"/>
<path fill="#63e0a2" d="M415.6 226.6h140.4v1h-140.4zM415.6 230h140.4v1.5h-140.4z"/>
<path fill="#6ff0c8" d="M415.6 232.8h140.4v1.5h-140.4z"/>
<path fill="#5a4a5c" d="M415.6 239.7h140.4v0.8h-140.4z"/>
<path fill="#63e0a2" d="M415.6 241.4h140.4v1.2h-140.4z"/>
<path fill="#80ffff" d="M415.6 264.1h140.4v2.6h-140.4z"/>
<path fill="#63e0a2" d="M415.6 274.1h140.4v1.5h-140.4z"/>
<path fill="#6ff0c8" d="M415.6 281h140.4v1.1h-140.4z"/>
<path fill="#63e0a2" d="M415.6 286.1h140.4v1.3h-140.4z"/>
<path fill="#6ff0c8" d="M415.6 287.8h140.4v1h-140.4zM415.6 290.1h140.4v1h-140.4zM556 225.4h140.6v1.4h-140.6z"/>
<path fill="#63e0a2" d="M556 231.1h140.6v1.2h-140.6z"/>
<path fill="#6ff0c8" d="M556 232.8h140.6v1.6h-140.6zM556 239.6h140.6v1.4h-140.6z"/>
<path fill="#80ffff" d="M556 250.7h140.6v1.5h-140.6z"/>
<path fill="#63e0a2" d="M556 264h140.6v1.2h-140.6z"/>
<path fill="#80ffff" d="M556 265.8h140.6v1.2h-140.6z"/>
<path fill="#63e0a2" d="M556 274.1h140.6v1.5h-140.6zM556 286.1h140.6v1.3h-140.6z"/>
<path fill="#6ff0c8" d="M556 287.7h140.6v1.2h-140.6zM556 300.1h140.6v1.2h-140.6z"/>
<rect class="bd" x="415.2" y="201.6" width="281.7" height="103.7"/>
</g>
<g>
<rect x="714.2" y="201.4" width="282.1" height="104.1" fill="#338f1b"/>
<path fill="#63e0a2" d="M811.9 204.1h10.9v1.2h-10.9z"/>
<path fill="#80ffff" d="M811.9 211.8h10.9v1.6h-10.9z"/>
<path fill="#63e0a2" d="M811.9 217.1h10.9v1.5h-10.9z"/>
<path fill="#6ff0c8" d="M811.9 229h10.9v1.1h-10.9zM833.6 205.1h10.9v1h-10.9zM855.2 213.1h10.9v1.2h-10.9z"/>
<path fill="#63e0a2" d="M855.2 227h10.9v1.4h-10.9zM855.2 231.2h10.9v1.5h-10.9zM855.2 234.6h10.9v1.3h-10.9z"/>
<path fill="#6ff0c8" d="M877 205.8h21.7v1h-21.7z"/>
<path fill="#63e0a2" d="M877 220.6h21.7v1.4h-21.7zM942.1 205.6h21.7v3h-21.7z"/>
<path fill="#6ff0c8" d="M942.1 213.1h21.7v1.3h-21.7zM942.1 219.1h21.7v1h-21.7zM942.1 216.4h54.2v1.5h-54.2zM714.2 236.2h162.8v1.6h-162.8zM790.2 243.7h10.8v1.2h-10.8zM833.6 243.7h10.9v1.2h-10.9zM790.2 256.1h10.8v1.3h-10.8zM833.6 256.1h10.9v1.3h-10.9zM855.2 256.1h10.9v1.3h-10.9z"/>
<path fill="#63e0a2" d="M790.2 264.3h10.8v1.4h-10.8zM833.6 264.3h10.9v1.4h-10.9z"/>
<path fill="#6ff0c8" d="M855.2 242.9h10.9v1.1h-10.9z"/>
<path fill="#63e0a2" d="M855.2 249.5h10.9v3h-10.9zM855.2 270.2h10.9v1.4h-10.9z"/>
<path fill="#6ff0c8" d="M866.1 248.1h10.8v1h-10.8z"/>
<path fill="#63e0a2" d="M866.1 268.4h10.8v1.4h-10.8zM877 245.2h21.7v1.5h-21.7zM887.8 242h10.9v1.2h-10.9zM887.8 250.2h10.9v1.4h-10.9zM866.1 285.1h10.8v1.3h-10.8zM866.1 288.4h10.8v1.4h-10.8z"/>
<path fill="#6ff0c8" d="M866.1 291.7h10.8v1.2h-10.8zM887.8 286.7h10.9v1.2h-10.9zM942.1 286.7h54.2v1.2h-54.2zM942.1 293.9h54.2v1.4h-54.2zM833.6 290.9h10.9v1h-10.9z"/>
<path fill="#63e0a2" d="M790.2 297.4h10.8v1.4h-10.8zM833.6 297.4h10.9v1.4h-10.9z"/>
<path fill="#6ff0c8" d="M790.2 302.5h10.8v1.2h-10.8zM833.6 302.5h10.9v1.2h-10.9zM855.2 302.5h10.9v1.2h-10.9zM779.3 301.1h43.4v0.9h-43.4z"/>
<path fill="#5a4a5c" d="M855.2 299.1h10.9v0.7h-10.9z"/>
<path fill="#6ff0c8" d="M855.2 299.9h10.9v1h-10.9z"/>
<path fill="#63e0a2" d="M887.8 302.6h10.9v1h-10.9z"/>
<rect class="bd" x="714.4" y="201.6" width="281.7" height="103.7"/>
</g>
<g>
<rect x="1013.4" y="201.4" width="282.1" height="104.1" fill="#338f1b"/>
<path fill="#6ff0c8" d="M1023.7 228h2.5v1.2h-2.5z"/>
<path fill="#63e0a2" d="M1023.7 268.2h2.5v1.6h-2.5z"/>
<path fill="#6ff0c8" d="M1026.5 248.9h5v1.2h-5zM1034.2 233.9h2.5v1.2h-2.5zM1034.2 257.9h2.5v1.2h-2.5zM1031.5 239.7h2.5v1.2h-2.5zM1034 238.9h2.8v1.2h-2.8zM1039.5 238.9h10v1.2h-10z"/>
<path fill="#1a3a10" d="M1044.2 228.8h2.5v1.2h-2.5zM1044.2 236.4h2.5v1.2h-2.5zM1044.2 250.4h2.5v1.2h-2.5zM1044.2 256.2h2.5v2h-2.5z"/>
<path fill="#63e0a2" d="M1049.2 236.2h2.5v1.6h-2.5z"/>
<path fill="#6d3f95" d="M1059.5 234.7h2.5v1.2h-2.5z"/>
<path fill="#6ff0c8" d="M1062.2 231.9h2.5v1.2h-2.5zM1062.2 242.9h2.5v1.2h-2.5zM1062.2 266.2h2.5v1.2h-2.5z"/>
<path fill="#1a3a10" d="M1064.7 234.7h2.5v1.2h-2.5z"/>
<path fill="#63e0a2" d="M1067.2 231h2.5v1.6h-2.5z"/>
<path fill="#6ff0c8" d="M1067.2 242.1h2.5v1.2h-2.5z"/>
<path fill="#63e0a2" d="M1067.5 221.1h5v1.8h-5z"/>
<path fill="#6ff0c8" d="M1072.4 248.9h2.5v1.2h-2.5zM1074.9 234.7h2.5v1.2h-2.5z"/>
<path fill="#80ffff" d="M1080 246.4h2.5v1.8h-2.5z"/>
<path fill="#63e0a2" d="M1080 250.2h2.5v1.6h-2.5z"/>
<path fill="#6ff0c8" d="M1090.5 232.1h2.5v1.2h-2.5zM1098 247.9h2.5v1.2h-2.5zM1098 252.1h2.5v1.2h-2.5zM1098 256.9h2.5v1.2h-2.5z"/>
<path fill="#63e0a2" d="M1098 259.5h2.5v3h-2.5z"/>
<path fill="#6ff0c8" d="M1098 262.9h2.5v1.2h-2.5zM1098 266.2h2.5v1.2h-2.5zM1103.2 209.9h2.5v1.2h-2.5z"/>
<path fill="#80ffff" d="M1103.2 215.2h2.5v2.6h-2.5z"/>
<path fill="#1a3a10" d="M1103.2 218.9h2.5v1.2h-2.5z"/>
<path fill="#63e0a2" d="M1103.2 231.2h2.5v1.6h-2.5z"/>
<path fill="#6ff0c8" d="M1103.2 239.4h2.5v1.2h-2.5z"/>
<path fill="#1a3a10" d="M1103.2 267.7h2.5v1.2h-2.5z"/>
<path fill="#6ff0c8" d="M1105.7 219.7h2.5v1.2h-2.5zM1105.7 240.4h2.5v1.2h-2.5zM1103 257.9h5v1.2h-5z"/>
<path fill="#80ffff" d="M1103 261.9h5v1.5h-5z"/>
<path fill="#63e0a2" d="M1115.9 207.1h2.5v1.8h-2.5z"/>
<path fill="#6ff0c8" d="M1115.9 209.9h2.5v1.2h-2.5zM1128.7 209.9h2.5v1.2h-2.5zM1133.7 219.7h2.5v1.2h-2.5z"/>
<path fill="#63e0a2" d="M1133.7 241.2h2.5v1.6h-2.5zM1131.5 256h7.5v1.6h-7.5z"/>
<path fill="#80ffff" d="M1131.5 261.9h7.5v1.5h-7.5z"/>
<path fill="#1a3a10" d="M1144.2 235.6h2.5v1.2h-2.5z"/>
<path fill="#80ffff" d="M1151.7 202.7h2.5v1.6h-2.5z"/>
<path fill="#6ff0c8" d="M1151.7 205.9h2.5v1.2h-2.5zM1151.7 209.9h2.5v1.2h-2.5z"/>
<path fill="#80ffff" d="M1151.7 215h2.5v2h-2.5z"/>
<path fill="#6d3f95" d="M1151.7 219.1h2.5v1.2h-2.5z"/>
<path fill="#80ffff" d="M1151.7 228.1h2.5v1.8h-2.5z"/>
<path fill="#6d3f95" d="M1151.7 229.9h2.5v1.2h-2.5z"/>
<path fill="#63e0a2" d="M1151.7 231.4h2.5v1.2h-2.5z"/>
<path fill="#6ff0c8" d="M1151.7 240.4h2.5v1.2h-2.5z"/>
<path fill="#80ffff" d="M1151.7 243.1h2.5v1.8h-2.5zM1151.7 247h2.5v2.4h-2.5z"/>
<path fill="#6ff0c8" d="M1151.7 249.9h2.5v1.2h-2.5z"/>
<path fill="#80ffff" d="M1151.7 253.8h2.5v1.8h-2.5z"/>
<path fill="#6ff0c8" d="M1151.7 257.9h2.5v1.2h-2.5z"/>
<path fill="#63e0a2" d="M1151.7 263.5h2.5v2h-2.5z"/>
<path fill="#80ffff" d="M1151.7 265.8h2.5v1.5h-2.5z"/>
<path fill="#6ff0c8" d="M1156.7 229.9h2.5v1.2h-2.5zM1187.5 202.6h2.5v1.2h-2.5z"/>
<path fill="#1a3a10" d="M1187.5 223.1h2.5v1.2h-2.5z"/>
<path fill="#80ffff" d="M1187.5 228h2.5v2h-2.5z"/>
<path fill="#6ff0c8" d="M1187.5 232.2h2.5v1.2h-2.5zM1187.5 234.9h2.5v1.2h-2.5z"/>
<path fill="#63e0a2" d="M1187.5 238h2.5v2h-2.5z"/>
<path fill="#000000" d="M1187.5 240.9h2.5v1.2h-2.5z"/>
<path fill="#6d3f95" d="M1187.5 244.7h2.5v1.2h-2.5z"/>
<path fill="#80ffff" d="M1187.5 247h2.5v2h-2.5z"/>
<path fill="#63e0a2" d="M1187.5 250.2h2.5v1.6h-2.5zM1187.5 260.2h2.5v1.6h-2.5z"/>
<path fill="#6ff0c8" d="M1187.5 264.2h2.5v1.6h-2.5zM1187.5 266.9h2.5v1.2h-2.5zM1187.5 270.6h2.5v1.2h-2.5z"/>
<path fill="#63e0a2" d="M1197.7 216.4h2.5v1.6h-2.5z"/>
<path fill="#6ff0c8" d="M1200.2 202.6h2.5v1.2h-2.5z"/>
<path fill="#80ffff" d="M1200.2 228.2h2.5v2.6h-2.5z"/>
<path fill="#6ff0c8" d="M1200.2 234.9h2.5v1.2h-2.5zM1200.2 239.7h2.5v1.2h-2.5z"/>
<path fill="#80ffff" d="M1200.2 249.8h2.5v1.6h-2.5z"/>
<path fill="#63e0a2" d="M1200.2 260.2h2.5v1.6h-2.5z"/>
<path fill="#6ff0c8" d="M1200.2 266.9h2.5v1.2h-2.5zM1200.2 270.6h2.5v1.2h-2.5zM1203.2 204.9h2.5v1.2h-2.5z"/>
<path fill="#80ffff" d="M1203.2 210h2.5v2h-2.5z"/>
<path fill="#6ff0c8" d="M1203.2 212.9h2.5v1.2h-2.5z"/>
<path fill="#80ffff" d="M1203.2 215h2.5v2h-2.5z"/>
<path fill="#6ff0c8" d="M1203.2 218.1h2.5v1.2h-2.5z"/>
<path fill="#6d3f95" d="M1203.2 221.7h2.5v1.2h-2.5z"/>
<path fill="#80ffff" d="M1203.2 223.8h2.5v2h-2.5z"/>
<path fill="#6ff0c8" d="M1203.2 227.4h2.5v1.2h-2.5z"/>
<path fill="#80ffff" d="M1023.7 285.1h2.5v1.8h-2.5z"/>
<path fill="#6ff0c8" d="M1026.2 282.7h2.5v1.2h-2.5z"/>
<path fill="#63e0a2" d="M1026.5 288.2h7.5v1.8h-7.5z"/>
<path fill="#80ffff" d="M1026.5 299.9h7.5v1.6h-7.5z"/>
<path fill="#6ff0c8" d="M1028.7 295.7h2.5v1.2h-2.5zM1031.2 297.4h2.5v1.2h-2.5zM1034.2 295h2.5v1.2h-2.5z"/>
<path fill="#80ffff" d="M1034.2 302.4h2.5v1.6h-2.5z"/>
<path fill="#1a3a10" d="M1044.2 289.2h2.5v1.2h-2.5zM1044.2 295.7h2.5v1.2h-2.5z"/>
<path fill="#63e0a2" d="M1049.2 279.2h2.5v1.6h-2.5zM1049.2 297.4h2.5v1.6h-2.5z"/>
<path fill="#6ff0c8" d="M1056.7 276.9h2.5v1.2h-2.5zM1059.5 282.7h2.5v1.2h-2.5zM1059.5 295.7h2.5v1.2h-2.5z"/>
<path fill="#80ffff" d="M1062.2 274.5h2.5v2.6h-2.5z"/>
<path fill="#6ff0c8" d="M1062.2 277.7h2.5v1.2h-2.5zM1062.2 280.1h2.5v1.2h-2.5zM1062.2 287.2h2.5v1.6h-2.5zM1062.2 296.6h2.5v1.2h-2.5zM1062.2 303.4h2.5v1.2h-2.5zM1067.2 296.8h2.5v1.2h-2.5zM1090.5 294h2.5v1.6h-2.5z"/>
<path fill="#63e0a2" d="M1098 274.1h2.5v1.8h-2.5z"/>
<path fill="#6ff0c8" d="M1098 276.9h2.5v1.2h-2.5zM1098 280.1h2.5v1.2h-2.5z"/>
<path fill="#63e0a2" d="M1098 283.1h2.5v1.8h-2.5z"/>
<path fill="#6ff0c8" d="M1098 287.2h2.5v1.6h-2.5zM1098 299.1h2.5v1.5h-2.5zM1103 276.9h5v1.2h-5z"/>
<path fill="#1a3a10" d="M1103.2 281.8h2.5v1.2h-2.5z"/>
<path fill="#6ff0c8" d="M1105.7 292.6h2.5v1.2h-2.5z"/>
<path fill="#63e0a2" d="M1131.5 283.1h7.5v1.8h-7.5z"/>
<path fill="#6ff0c8" d="M1151.7 271.9h2.5v1.2h-2.5zM1151.7 275.2h2.5v1.2h-2.5z"/>
<path fill="#80ffff" d="M1151.7 276.6h2.5v2.4h-2.5z"/>
<path fill="#63e0a2" d="M1151.7 282.2h2.5v3.5h-2.5z"/>
<path fill="#6ff0c8" d="M1151.7 287.2h2.5v1.5h-2.5zM1151.7 291.7h2.5v1.2h-2.5zM1151.7 297.4h2.5v1.6h-2.5zM1151.7 300.1h2.5v1.2h-2.5z"/>
<path fill="#80ffff" d="M1187.5 271.7h2.5v2.6h-2.5z"/>
<path fill="#6ff0c8" d="M1187.5 275.7h2.5v1.2h-2.5z"/>
<path fill="#80ffff" d="M1187.5 282.8h2.5v1.8h-2.5z"/>
<path fill="#6ff0c8" d="M1187.5 290.1h2.5v1.2h-2.5zM1187.5 299.2h2.5v1.2h-2.5zM1187.5 301.6h2.5v1.2h-2.5z"/>
<path fill="#80ffff" d="M1200.2 272h2.5v3h-2.5z"/>
<path fill="#6ff0c8" d="M1200.2 275.7h2.5v1.2h-2.5z"/>
<path fill="#63e0a2" d="M1200.2 283.2h2.5v1.6h-2.5z"/>
<path fill="#6d3f95" d="M1200.2 290.1h2.5v1.2h-2.5z"/>
<path fill="#6ff0c8" d="M1200.2 299.2h2.5v1.2h-2.5zM1200.2 301.6h2.5v1.2h-2.5zM1210.7 202.6h2.5v1.2h-2.5z"/>
<path fill="#63e0a2" d="M1210.7 208.2h2.5v1.6h-2.5zM1210.7 216.4h2.5v1.6h-2.5zM1210.7 222.2h2.5v1.6h-2.5zM1210.7 241.2h2.5v1.6h-2.5zM1210.7 250.2h2.5v1.6h-2.5z"/>
<path fill="#6ff0c8" d="M1210.7 256.9h2.5v1.2h-2.5z"/>
<path fill="#80ffff" d="M1210.7 261.3h2.5v1.8h-2.5z"/>
<path fill="#6ff0c8" d="M1210.7 265.9h2.5v1.2h-2.5z"/>
<path fill="#80ffff" d="M1210.7 269h2.5v1.6h-2.5z"/>
<path fill="#6ff0c8" d="M1225.7 228.9h2.5v1.2h-2.5z"/>
<path fill="#63e0a2" d="M1225.7 235.4h2.5v1.6h-2.5z"/>
<path fill="#6ff0c8" d="M1225.7 256.9h2.5v1.2h-2.5z"/>
<path fill="#80ffff" d="M1225.7 260.4h2.5v1.6h-2.5z"/>
<path fill="#6ff0c8" d="M1225.7 266.9h2.5v1.2h-2.5z"/>
<path fill="#63e0a2" d="M1225.7 269.2h2.5v2.5h-2.5z"/>
<path fill="#6ff0c8" d="M1223.2 265.9h2.5v1.2h-2.5z"/>
<path fill="#63e0a2" d="M1234 208h5v1.4h-5z"/>
<path fill="#80ffff" d="M1234 228h5v2h-5z"/>
<path fill="#63e0a2" d="M1234 235.4h5v1.6h-5z"/>
<path fill="#6ff0c8" d="M1234 256.9h5v1.2h-5z"/>
<path fill="#80ffff" d="M1234 259.8h5v2.4h-5z"/>
<path fill="#63e0a2" d="M1234 264.1h5v1.8h-5z"/>
<path fill="#6ff0c8" d="M1234 266.9h5v1.2h-5z"/>
<path fill="#63e0a2" d="M1234 269h5v3h-5z"/>
<path fill="#6ff0c8" d="M1234 209.9h7.5v1.2h-7.5z"/>
<path fill="#63e0a2" d="M1234 225.3h7.5v1.8h-7.5z"/>
<path fill="#6ff0c8" d="M1238.7 228.1h2.5v1.2h-2.5zM1238.7 233.1h2.5v1.2h-2.5zM1238.7 262.9h2.5v1.2h-2.5zM1249.2 202.6h2.5v1.2h-2.5z"/>
<path fill="#63e0a2" d="M1249.2 208.2h2.5v1.6h-2.5z"/>
<path fill="#6ff0c8" d="M1249.2 228.9h2.5v1.2h-2.5z"/>
<path fill="#63e0a2" d="M1249.2 241h2.5v3h-2.5zM1249.2 260.2h2.5v1.6h-2.5zM1249.2 263.7h2.5v1.6h-2.5z"/>
<path fill="#80ffff" d="M1249.2 265.7h2.5v2.2h-2.5z"/>
<path fill="#6ff0c8" d="M1249.2 270.6h2.5v1.2h-2.5z"/>
<path fill="#1a3a10" d="M1284.7 207.4h2.5v1.2h-2.5z"/>
<path fill="#6ff0c8" d="M1210.7 271.9h2.5v1.2h-2.5z"/>
<path fill="#80ffff" d="M1210.7 274.7h2.5v1.6h-2.5z"/>
<path fill="#6ff0c8" d="M1210.7 277.9h2.5v1.2h-2.5zM1210.7 280.1h2.5v1.2h-2.5z"/>
<path fill="#80ffff" d="M1210.7 284.3h2.5v3h-2.5zM1210.7 288.2h2.5v1.6h-2.5z"/>
<path fill="#6ff0c8" d="M1210.7 291.7h2.5v1.2h-2.5z"/>
<path fill="#63e0a2" d="M1210.7 294h2.5v4h-2.5z"/>
<path fill="#6ff0c8" d="M1210.7 299.4h2.5v1.2h-2.5z"/>
<path fill="#6d3f95" d="M1210.7 300.4h2.5v1.2h-2.5z"/>
<path fill="#63e0a2" d="M1223.2 274.2h2.5v1.6h-2.5z"/>
<path fill="#6ff0c8" d="M1223.2 280.1h2.5v1.2h-2.5z"/>
<path fill="#63e0a2" d="M1223.2 287.5h2.5v1.6h-2.5zM1225.7 271.9h2.5v2.5h-2.5z"/>
<path fill="#6ff0c8" d="M1225.7 275.7h2.5v1.2h-2.5z"/>
<path fill="#80ffff" d="M1234 272h5v3h-5z"/>
<path fill="#6ff0c8" d="M1234 275.9h5v1.2h-5zM1234 300.6h5v1.2h-5zM1238.7 295h2.5v1.2h-2.5z"/>
<path fill="#80ffff" d="M1249.2 271.5h2.5v3h-2.5z"/>
<path fill="#6ff0c8" d="M1249.2 275.7h2.5v1.2h-2.5z"/>
<path fill="#63e0a2" d="M1249.2 287.5h2.5v1.6h-2.5zM1279.7 293.2h2.5v1.6h-2.5z"/>
<path fill="#80ffff" d="M1279.7 302.4h2.5v1.6h-2.5z"/>
<rect class="bd" x="1013.6" y="201.6" width="281.7" height="103.7"/>
</g>
<g>
<rect x="1312.6" y="201.4" width="282.1" height="104.1" fill="#338f1b"/>
<path fill="#821b8f" d="M1313 201.9h126.6v26.3h-126.6z"/>
<path fill="#7595d4" d="M1326.7 201.9h4.7v0.8h-4.7z"/>
<path fill="#78e6f6" d="M1326.7 208.8h4.7v2h-4.7zM1326.7 212h4.7v1.6h-4.7z"/>
<path fill="#7595d4" d="M1326.7 217h4.7v1.6h-4.7z"/>
<path fill="#78e6f6" d="M1326.7 221.3h4.7v3h-4.7z"/>
<path fill="#7595d4" d="M1354.9 201.9h4.7v0.8h-4.7z"/>
<path fill="#78e6f6" d="M1354.9 208.8h4.7v2h-4.7zM1354.9 212h4.7v1.6h-4.7z"/>
<path fill="#555555" d="M1354.9 217h4.7v1.6h-4.7z"/>
<path fill="#78e6f6" d="M1354.9 221.8h4.7v2h-4.7z"/>
<path fill="#3fb050" d="M1354.9 222.1h4.7v0.8h-4.7z"/>
<path fill="#78e6f6" d="M1354.9 227.2h4.7v1.2h-4.7z"/>
<path fill="#7595d4" d="M1430.1 202.8h4.7v1.8h-4.7z"/>
<path fill="#6fbde6" d="M1430.1 215h4.7v1h-4.7zM1430.1 218.2h4.7v1h-4.7z"/>
<path fill="#78e6f6" d="M1359.6 205.1h9.4v1.8h-9.4z"/>
<path fill="#6fbde6" d="M1313.1 205.9h126.4v1.2h-126.4z"/>
<path fill="#7595d4" d="M1336.1 208.3h9.4v1.4h-9.4zM1359.6 208.3h14.1v1.4h-14.1z"/>
<path fill="#6fbde6" d="M1313.1 211.6h60.6v1.4h-60.6zM1313.1 221.9h60.6v1.8h-60.6z"/>
<path fill="#7595d4" d="M1313.1 226.3h60.6v1.8h-60.6z"/>
<path fill="#6fbde6" d="M1378.4 211.6h14.1v1.4h-14.1zM1378.4 222h14.1v1.6h-14.1z"/>
<path fill="#7595d4" d="M1378.4 226.3h14.1v1.8h-14.1z"/>
<path fill="#3fb050" d="M1397.2 211h4.7v1h-4.7z"/>
<path fill="#7595d4" d="M1397.2 211.5h4.7v3h-4.7z"/>
<path fill="#78e6f6" d="M1397.2 219.8h4.7v1.4h-4.7z"/>
<path fill="#7595d4" d="M1397.2 221.8h4.7v2h-4.7z"/>
<path fill="#78e6f6" d="M1397.2 224h4.7v3h-4.7z"/>
<path fill="#6fbde6" d="M1401.9 211.7h4.7v1.2h-4.7zM1411.3 211.6h28.2v1.4h-28.2z"/>
<path fill="#7595d4" d="M1411.3 226.3h28.2v1.8h-28.2z"/>
<path fill="#6fbde6" d="M1401.9 222.3h14.1v1.4h-14.1z"/>
<path fill="#7595d4" d="M1416 220.8h23.5v4h-23.5zM1397.2 226.4h9.4v1.6h-9.4z"/>
<path fill="#78e6f6" d="M1336.1 227.2h4.7v1.2h-4.7z"/>
<path fill="#6ff0c8" d="M1313.1 248.9h27.7v1.2h-27.7z"/>
<path fill="#63e0a2" d="M1313.1 263.5h27.7v3h-27.7z"/>
<path fill="#5a4a5c" d="M1313.1 251.1h102.9v1.4h-102.9z"/>
<path fill="#63e0a2" d="M1326.7 251h4.7v1.6h-4.7zM1354.9 251h4.7v1.6h-4.7zM1397.2 251h4.7v1.6h-4.7z"/>
<path fill="#6ff0c8" d="M1416 250.9h23.5v1.8h-23.5z"/>
<path fill="#63e0a2" d="M1448.9 205.1h4.7v1.2h-4.7z"/>
<path fill="#6d3f95" d="M1448.9 207.6h4.7v1.2h-4.7z"/>
<path fill="#6ff0c8" d="M1448.9 208.2h4.7v1.2h-4.7z"/>
<path fill="#6d3f95" d="M1448.9 211.6h4.7v1.2h-4.7z"/>
<path fill="#80ffff" d="M1448.9 212h4.7v2h-4.7z"/>
<path fill="#1a3a10" d="M1448.9 216.7h4.7v1.2h-4.7z"/>
<path fill="#6ff0c8" d="M1448.9 218.4h4.7v1.2h-4.7z"/>
<path fill="#6d3f95" d="M1448.9 219h4.7v1.2h-4.7z"/>
<path fill="#63e0a2" d="M1448.9 220.5h4.7v6h-4.7zM1448.9 240.2h4.7v1.6h-4.7zM1453.6 202.9h4.7v1.6h-4.7z"/>
<path fill="#6ff0c8" d="M1453.6 205.9h4.7v1.2h-4.7z"/>
<path fill="#80ffff" d="M1453.6 209h4.7v2h-4.7z"/>
<path fill="#63e0a2" d="M1453.6 215.9h4.7v1.2h-4.7z"/>
<path fill="#6ff0c8" d="M1453.6 218h4.7v1.4h-4.7zM1453.6 252.1h4.7v1.2h-4.7zM1448.9 232h9.4v1.4h-9.4zM1472.4 205.1h4.7v1.2h-4.7z"/>
<path fill="#63e0a2" d="M1472.4 218h4.7v1.4h-4.7z"/>
<path fill="#6ff0c8" d="M1467.7 209.9h4.7v1.2h-4.7zM1467.7 213.9h4.7v1.2h-4.7zM1467.7 224.9h4.7v1.2h-4.7z"/>
<path fill="#63e0a2" d="M1467.7 267.7h4.7v1.2h-4.7z"/>
<path fill="#6ff0c8" d="M1463 219.1h9.4v1.2h-9.4z"/>
<path fill="#1a3a10" d="M1477.1 208h4.7v1.6h-4.7zM1477.1 222.8h4.7v1.6h-4.7zM1477.1 245.2h4.7v1.6h-4.7z"/>
<path fill="#6ff0c8" d="M1458.3 242.9h14.1v1.2h-14.1z"/>
<path fill="#1a3a10" d="M1528.8 211.5h4.7v1.6h-4.7z"/>
<path fill="#63e0a2" d="M1542.9 212h9.4v2h-9.4z"/>
<path fill="#6ff0c8" d="M1542.9 219.9h9.4v1.2h-9.4z"/>
<path fill="#63e0a2" d="M1542.9 235.4h9.4v1.6h-9.4zM1542.9 238.7h9.4v1.6h-9.4z"/>
<path fill="#6ff0c8" d="M1542.9 240.5h9.4v1.4h-9.4zM1542.9 247h9.4v1.4h-9.4z"/>
<path fill="#63e0a2" d="M1542.9 255.1h9.4v1.4h-9.4zM1542.9 259.1h9.4v1.2h-9.4z"/>
<path fill="#80ffff" d="M1542.9 266.1h9.4v2.2h-9.4z"/>
<path fill="#63e0a2" d="M1542.9 222.9h4.7v1.4h-4.7z"/>
<path fill="#6ff0c8" d="M1552.3 248.9h9.4v1.2h-9.4z"/>
<path fill="#63e0a2" d="M1561.7 205.1h4.7v1.2h-4.7zM1561.7 207.4h4.7v1.6h-4.7zM1561.7 211.5h4.7v1.6h-4.7zM1561.7 251h4.7v1.6h-4.7zM1571.1 204h9.4v1.4h-9.4zM1571.1 212.2h9.4v1.6h-9.4z"/>
<path fill="#6ff0c8" d="M1571.1 223.8h9.4v1.4h-9.4z"/>
<path fill="#63e0a2" d="M1571.1 252h9.4v1.4h-9.4zM1571.1 210.9h4.7v1.2h-4.7z"/>
<path fill="#80ffff" d="M1571.1 222.8h4.7v1.6h-4.7z"/>
<path fill="#63e0a2" d="M1571.1 236.1h4.7v1.8h-4.7zM1575.8 253.6h4.7v1.2h-4.7zM1585.2 204h8.8v1.4h-8.8z"/>
<path fill="#6ff0c8" d="M1463 256.8h131v1.4h-131zM1463 261h131v1.4h-131zM1463 269.4h131v1.6h-131z"/>
<path fill="#80ffff" d="M1467.7 269h4.7v2.4h-4.7z"/>
<path fill="#6a1a6a" d="M1542.9 257.1h9.4v1.4h-9.4zM1542.9 261h9.4v1.4h-9.4zM1542.9 269.3h9.4v1.8h-9.4z"/>
<path fill="#6ff0c8" d="M1313.1 276.9h70v1.2h-70zM1313.1 300h70v1.4h-70z"/>
<path fill="#63e0a2" d="M1383.1 285.9h9.4v1.2h-9.4zM1383.1 288.5h9.4v1.4h-9.4zM1448.9 289.1h9.4v1.4h-9.4zM1453.6 292.5h4.7v1.4h-4.7zM1453.6 296.7h4.7v1.4h-4.7z"/>
<path fill="#6ff0c8" d="M1467.7 281.9h4.7v1.2h-4.7z"/>
<path fill="#63e0a2" d="M1467.7 290h4.7v1.4h-4.7z"/>
<path fill="#6d3f95" d="M1467.7 292.7h4.7v1.2h-4.7z"/>
<path fill="#6ff0c8" d="M1463 286.7h9.4v1.2h-9.4zM1463 291.6h9.4v1.4h-9.4z"/>
<path fill="#63e0a2" d="M1542.9 271.8h9.4v1.4h-9.4zM1542.9 274.2h9.4v1.6h-9.4z"/>
<path fill="#80ffff" d="M1542.9 277h9.4v4h-9.4z"/>
<path fill="#6ff0c8" d="M1542.9 287.5h9.4v1.6h-9.4z"/>
<path fill="#63e0a2" d="M1542.9 294.1h9.4v1.4h-9.4z"/>
<path fill="#6ff0c8" d="M1542.9 295.9h9.4v1.2h-9.4z"/>
<path fill="#63e0a2" d="M1542.9 298h9.4v1.6h-9.4z"/>
<path fill="#6ff0c8" d="M1542.9 301.4h9.4v1.6h-9.4z"/>
<path fill="#63e0a2" d="M1575.8 276.9h4.7v1.2h-4.7zM1575.8 299.9h4.7v1.2h-4.7zM1571.1 294.1h4.7v1.4h-4.7z"/>
<rect class="bd" x="1312.8" y="201.6" width="281.7" height="103.7"/>
</g>
<g>
<rect x="115.7" y="328.3" width="282.1" height="130.4" fill="#338f1b"/>
<path fill="#6ff0c8" d="M116.3 331.9h93.5v1.2h-93.5zM116.3 335.8h93.5v1.2h-93.5z"/>
<path fill="#1a3a10" d="M116.3 337.8h93.5v0.7h-93.5z"/>
<path fill="#80ffff" d="M116.3 338.7h93.5v1.2h-93.5z"/>
<path fill="#63e0a2" d="M116.3 342.2h93.5v1.5h-93.5z"/>
<path fill="#80ffff" d="M116.3 345h93.5v2h-93.5z"/>
<path fill="#63e0a2" d="M116.3 366.2h93.5v1.6h-93.5z"/>
<path fill="#6ff0c8" d="M116.3 368.9h93.5v1.2h-93.5z"/>
<path fill="#1a3a10" d="M116.3 375.7h93.5v1h-93.5z"/>
<path fill="#80ffff" d="M116.3 379.9h93.5v1.4h-93.5z"/>
<path fill="#1a3a10" d="M116.3 388.2h93.5v0.9h-93.5z"/>
<path fill="#6ff0c8" d="M209.8 335.1h94v1.2h-94z"/>
<path fill="#63e0a2" d="M209.8 338.7h94v1.6h-94zM209.8 343.1h94v1.5h-94z"/>
<path fill="#6ff0c8" d="M209.8 346h94v1h-94z"/>
<path fill="#80ffff" d="M209.8 353.4h94v1.6h-94z"/>
<path fill="#6ff0c8" d="M209.8 380h94v1.2h-94zM303.8 336.8h93.5v1.2h-93.5zM303.8 344.9h93.5v1.2h-93.5zM303.8 359h93.5v1.2h-93.5zM116.3 394.6h93.5v2.8h-93.5z"/>
<path fill="#63e0a2" d="M116.3 404.4h93.5v1.5h-93.5z"/>
<path fill="#80ffff" d="M116.3 412.1h93.5v1.7h-93.5z"/>
<path fill="#6ff0c8" d="M116.3 421h93.5v1h-93.5z"/>
<path fill="#63e0a2" d="M116.3 423.3h93.5v1.6h-93.5z"/>
<path fill="#5a4a5c" d="M116.3 435.1h93.5v0.9h-93.5z"/>
<path fill="#1a3a10" d="M116.3 442.2h93.5v1.5h-93.5z"/>
<path fill="#821b8f" d="M116.3 449.2h93.5v1.6h-93.5z"/>
<path fill="#6ff0c8" d="M209.8 399.2h94v1.6h-94zM209.8 412h94v1.2h-94z"/>
<path fill="#63e0a2" d="M209.8 419h94v1.7h-94z"/>
<path fill="#6ff0c8" d="M303.8 410.1h93.5v1.4h-93.5z"/>
<path fill="#5a4a5c" d="M303.8 449.1h93.5v1h-93.5z"/>
<rect class="bd" x="115.9" y="328.5" width="281.7" height="130"/>
</g>
<g>
<rect x="415" y="328.3" width="282.1" height="130.4" fill="#338f1b"/>
<path fill="#63e0a2" d="M415.6 338.4h140.4v1.4h-140.4z"/>
<path fill="#6ff0c8" d="M415.6 341.7h140.4v1.2h-140.4zM415.6 350.9h140.4v1h-140.4zM556 331.1h140.6v1h-140.6z"/>
<path fill="#80ffff" d="M415.6 364.2h140.4v1.6h-140.4z"/>
<path fill="#6ff0c8" d="M415.6 367.9h140.4v1h-140.4z"/>
<path fill="#63e0a2" d="M415.6 370.8h140.4v1.2h-140.4zM415.6 374.9h140.4v1h-140.4z"/>
<path fill="#80ffff" d="M415.6 379.1h140.4v1.6h-140.4z"/>
<path fill="#63e0a2" d="M415.6 383.2h140.4v1h-140.4zM415.6 385.5h140.4v1.2h-140.4zM415.6 393.2h140.4v1.1h-140.4z"/>
<path fill="#6ff0c8" d="M415.6 396h140.4v1.2h-140.4z"/>
<path fill="#80ffff" d="M415.6 399.1h140.4v1.5h-140.4z"/>
<path fill="#63e0a2" d="M415.6 407h140.4v1.2h-140.4zM415.6 410.3h140.4v1.2h-140.4zM415.6 414.3h140.4v1.2h-140.4z"/>
<path fill="#6ff0c8" d="M415.6 415.9h140.4v1h-140.4zM415.6 425.1h140.4v1.2h-140.4z"/>
<path fill="#63e0a2" d="M415.6 428.4h140.4v1.4h-140.4z"/>
<path fill="#6ff0c8" d="M415.6 435.9h140.4v1h-140.4z"/>
<path fill="#63e0a2" d="M415.6 440.5h140.4v1h-140.4z"/>
<path fill="#80ffff" d="M415.6 442.1h140.4v1.3h-140.4z"/>
<path fill="#63e0a2" d="M415.6 447.1h140.4v1.5h-140.4z"/>
<path fill="#6ff0c8" d="M415.6 449.1h140.4v1.2h-140.4zM415.6 456.7h140.4v1.2h-140.4zM556 364.8h140.6v1.2h-140.6z"/>
<path fill="#63e0a2" d="M556 370.8h140.6v1.2h-140.6z"/>
<path fill="#6ff0c8" d="M556 382.1h140.6v1.2h-140.6z"/>
<path fill="#80ffff" d="M556 414h140.6v1.5h-140.6z"/>
<path fill="#6ff0c8" d="M556 422.7h140.6v1.2h-140.6zM556 440.2h140.6v1.1h-140.6z"/>
<rect class="bd" x="415.2" y="328.5" width="281.7" height="130"/>
</g>
<g>
<rect x="714.2" y="328.3" width="282.1" height="130.4" fill="#338f1b"/>
<path fill="#63e0a2" d="M942.1 334.3h10.9v1.2h-10.9zM963.8 334.3h10.9v1.2h-10.9z"/>
<path fill="#5a4a5c" d="M952.9 334.4h10.9v1h-10.9zM974.6 334.4h21.7v1h-21.7z"/>
<path fill="#63e0a2" d="M833.6 336.5h10.9v1.3h-10.9zM833.6 342.4h10.9v1.4h-10.9zM866.1 342.4h10.8v1.4h-10.8z"/>
<path fill="#6ff0c8" d="M833.6 351.4h10.9v1.4h-10.9z"/>
<path fill="#63e0a2" d="M790.2 367.2h10.8v1.4h-10.8zM833.6 367.2h10.9v1.4h-10.9z"/>
<path fill="#6ff0c8" d="M790.2 391.9h10.8v1.3h-10.8zM833.6 391.9h10.9v1.3h-10.9zM833.6 427.5h10.9v1.3h-10.9z"/>
<path fill="#80ffff" d="M866.1 337.5h10.8v1.8h-10.8z"/>
<path fill="#63e0a2" d="M866.1 352.2h10.8v1.5h-10.8z"/>
<path fill="#6ff0c8" d="M866.1 355.1h10.8v0.9h-10.8zM714.2 381.2h86.8v1.4h-86.8zM866.1 381.2h10.8v1.4h-10.8zM866.1 396h10.8v1.4h-10.8zM866.1 421.8h10.8v1.2h-10.8z"/>
<path fill="#63e0a2" d="M866.1 428h10.8v1.8h-10.8z"/>
<path fill="#6ff0c8" d="M855.2 348h10.9v1.4h-10.9zM855.2 355.7h10.9v1.2h-10.9z"/>
<path fill="#63e0a2" d="M855.2 361.3h10.9v1.4h-10.9z"/>
<path fill="#6ff0c8" d="M855.2 372.9h10.9v1h-10.9z"/>
<path fill="#80ffff" d="M855.2 380.2h10.9v1.8h-10.9z"/>
<path fill="#6ff0c8" d="M855.2 387.9h10.9v1h-10.9z"/>
<path fill="#63e0a2" d="M855.2 400h10.9v1.2h-10.9zM855.2 401.7h10.9v1.2h-10.9zM855.2 419.2h10.9v1.4h-10.9z"/>
<path fill="#6ff0c8" d="M942.1 346.6h54.2v1.4h-54.2zM942.1 348.9h54.2v1.4h-54.2z"/>
<path fill="#80ffff" d="M942.1 368h54.2v2h-54.2z"/>
<path fill="#6ff0c8" d="M942.1 373.8h54.2v1.2h-54.2z"/>
<path fill="#80ffff" d="M942.1 376.6h54.2v1.6h-54.2z"/>
<path fill="#6ff0c8" d="M942.1 393.8h54.2v1.2h-54.2zM942.1 400.9h54.2v1.4h-54.2zM942.1 423h54.2v1.2h-54.2z"/>
<path fill="#80ffff" d="M974.6 373h21.7v1.8h-21.7zM942.1 423.1h10.9v1.6h-10.9z"/>
<path fill="#63e0a2" d="M811.9 371.3h10.9v1.4h-10.9z"/>
<path fill="#6ff0c8" d="M811.9 401.9h10.9v1h-10.9z"/>
<path fill="#63e0a2" d="M811.9 424h10.9v1.4h-10.9zM887.8 398.5h10.9v1.3h-10.9zM887.8 409.2h10.9v1.4h-10.9z"/>
<path fill="#6ff0c8" d="M887.8 414.2h10.9v1.5h-10.9z"/>
<path fill="#80ffff" d="M898.7 403h10.8v1.8h-10.8z"/>
<path fill="#6ff0c8" d="M801 421h21.7v0.9h-21.7zM833.6 430h10.9v1.2h-10.9zM855.2 430h10.9v1.2h-10.9zM790.2 444.1h10.8v1.3h-10.8zM833.6 444.1h10.9v1.3h-10.9zM833.6 454.6h10.9v1.3h-10.9zM855.2 436.8h10.9v1.2h-10.9z"/>
<path fill="#63e0a2" d="M855.2 447.3h10.9v1.4h-10.9z"/>
<path fill="#6ff0c8" d="M855.2 453.2h10.9v1.3h-10.9zM855.2 441.7h21.7v1.1h-21.7z"/>
<path fill="#63e0a2" d="M811.9 446.4h10.9v1.4h-10.9zM942.1 452.3h54.2v1.6h-54.2z"/>
<path fill="#6ff0c8" d="M942.1 456.4h54.2v1.4h-54.2z"/>
<rect class="bd" x="714.4" y="328.5" width="281.7" height="130"/>
</g>
<g>
<rect x="1013.4" y="328.3" width="282.1" height="130.4" fill="#338f1b"/>
<path fill="#6ff0c8" d="M1013.9 329.9h2.4v1.2h-2.4zM1013.9 341.6h2.4v1.2h-2.4zM1013.9 357.4h2.4v1.2h-2.4zM1013.9 381.4h2.4v1.2h-2.4zM1013.9 389.6h2.4v1.2h-2.4z"/>
<path fill="#63e0a2" d="M1014.2 361.2h9.8v1.6h-9.8z"/>
<path fill="#6ff0c8" d="M1023.7 361.9h2.5v1.2h-2.5zM1023.7 356.9h2.5v1.2h-2.5zM1023.7 351.4h2.5v1.5h-2.5zM1023.7 370.7h2.5v1.2h-2.5zM1023.7 373.9h2.5v1.2h-2.5z"/>
<path fill="#80ffff" d="M1023.7 380.6h2.5v1.8h-2.5z"/>
<path fill="#6ff0c8" d="M1021 358h13v1.2h-13zM1024 339.1h2.5v1.2h-2.5zM1026.5 338.2h5v1.2h-5zM1026.2 335.7h2.5v1.2h-2.5z"/>
<path fill="#1a3a10" d="M1028.7 354.9h2.5v1.2h-2.5z"/>
<path fill="#6ff0c8" d="M1028.7 372h2.5v1.2h-2.5zM1031.2 340.9h2.5v1.2h-2.5z"/>
<path fill="#63e0a2" d="M1031.2 347h2.5v1.6h-2.5z"/>
<path fill="#1a3a10" d="M1044.2 332h2.5v2.4h-2.5zM1044.2 345.9h2.5v1.2h-2.5zM1044.2 355.6h2.5v1.2h-2.5zM1044.2 364.9h2.5v1.2h-2.5zM1044.2 367.4h2.5v1.2h-2.5zM1044.2 370.7h2.5v1.2h-2.5zM1044.2 394.4h2.5v1.2h-2.5zM1044.2 396.9h2.5v1.2h-2.5z"/>
<path fill="#6ff0c8" d="M1049.2 334.9h2.5v1.2h-2.5z"/>
<path fill="#63e0a2" d="M1059.5 333h2.5v1.6h-2.5z"/>
<path fill="#6ff0c8" d="M1059.5 342.6h2.5v1.2h-2.5zM1059.5 349.9h2.5v1.2h-2.5zM1059.5 375.6h2.5v1.2h-2.5zM1059.5 396.9h2.5v1.2h-2.5zM1062.2 335.7h2.5v1.2h-2.5zM1062.2 341.6h2.5v1.2h-2.5zM1062.2 344.9h2.5v1.2h-2.5zM1062.2 346.6h2.5v1.2h-2.5zM1062.2 369.7h2.5v1.2h-2.5zM1062.2 374.6h2.5v1.2h-2.5zM1062.2 387h2.5v1.2h-2.5z"/>
<path fill="#63e0a2" d="M1067.2 331h2.5v3h-2.5z"/>
<path fill="#6ff0c8" d="M1067.2 359.9h2.5v1.2h-2.5z"/>
<path fill="#63e0a2" d="M1067.2 367h2.5v1.6h-2.5z"/>
<path fill="#6ff0c8" d="M1072.4 335.7h2.5v1.2h-2.5zM1072.4 337.6h2.5v1.2h-2.5z"/>
<path fill="#63e0a2" d="M1072.4 367h2.5v1.6h-2.5zM1074.9 381h2.5v1.6h-2.5z"/>
<path fill="#6ff0c8" d="M1080 335.7h2.5v1.2h-2.5z"/>
<path fill="#63e0a2" d="M1080 338.2h2.5v1.5h-2.5zM1090.5 352.2h2.5v1.6h-2.5z"/>
<path fill="#6ff0c8" d="M1090.5 382.2h2.5v1.2h-2.5zM1092.9 363.9h2.5v1.2h-2.5zM1098 329.4h2.5v1.2h-2.5zM1098 344.1h2.5v1.2h-2.5z"/>
<path fill="#63e0a2" d="M1098 352.2h2.5v1.6h-2.5z"/>
<path fill="#6ff0c8" d="M1098 359.9h2.5v1.2h-2.5zM1098 379.7h2.5v1.2h-2.5zM1098 391.1h2.5v1.2h-2.5zM1098 392.6h2.5v1.2h-2.5zM1095.5 394.4h2.5v1.2h-2.5z"/>
<path fill="#1a3a10" d="M1103.2 351.6h2.5v1.2h-2.5z"/>
<path fill="#80ffff" d="M1103.2 374.1h2.5v1.8h-2.5z"/>
<path fill="#6ff0c8" d="M1105.7 373.8h2.5v1.2h-2.5zM1105.7 329.4h2.5v1.2h-2.5z"/>
<path fill="#63e0a2" d="M1105.7 361.2h2.5v1.6h-2.5z"/>
<path fill="#6ff0c8" d="M1103 379.7h5v1.2h-5zM1110.7 330.9h2.5v1.2h-2.5zM1115.9 336.6h2.5v1.2h-2.5zM1115.9 359.9h2.5v1.2h-2.5zM1136.2 336.6h2.5v1.2h-2.5zM1131.5 341.6h7.5v1.2h-7.5z"/>
<path fill="#80ffff" d="M1131.5 368h7.5v2h-7.5z"/>
<path fill="#6ff0c8" d="M1133.7 391.1h2.5v1.2h-2.5z"/>
<path fill="#80ffff" d="M1151.7 331.1h2.5v1.8h-2.5z"/>
<path fill="#6ff0c8" d="M1151.7 334.4h2.5v1.2h-2.5z"/>
<path fill="#80ffff" d="M1151.7 336h2.5v2.4h-2.5z"/>
<path fill="#6ff0c8" d="M1151.7 338.9h2.5v1.2h-2.5zM1151.7 344.9h2.5v1.2h-2.5zM1151.7 347.2h2.5v1.2h-2.5zM1151.7 354.9h2.5v1.2h-2.5zM1151.7 357.9h2.5v1.2h-2.5z"/>
<path fill="#80ffff" d="M1151.7 359.8h2.5v2.4h-2.5z"/>
<path fill="#6ff0c8" d="M1151.7 362.9h2.5v1.2h-2.5zM1151.7 365.7h2.5v1.2h-2.5zM1151.7 368.9h2.5v1.2h-2.5z"/>
<path fill="#63e0a2" d="M1151.7 371.5h2.5v2h-2.5z"/>
<path fill="#6ff0c8" d="M1151.7 374.4h2.5v1.2h-2.5zM1151.7 385.9h2.5v1.2h-2.5z"/>
<path fill="#63e0a2" d="M1151.7 387.5h2.5v2h-2.5z"/>
<path fill="#6ff0c8" d="M1151.7 389.9h2.5v1.2h-2.5zM1154.2 349.1h2.5v1.2h-2.5zM1156.7 393.9h2.5v1.2h-2.5z"/>
<path fill="#1a3a10" d="M1187.5 335.7h2.5v1.2h-2.5z"/>
<path fill="#6d3f95" d="M1187.5 338.2h2.5v1.2h-2.5z"/>
<path fill="#6ff0c8" d="M1187.5 339.9h2.5v1.2h-2.5zM1187.5 343.4h2.5v1.2h-2.5zM1187.5 348.4h2.5v1.2h-2.5zM1187.5 349.9h2.5v1.2h-2.5zM1187.5 352.4h2.5v1.2h-2.5z"/>
<path fill="#80ffff" d="M1187.5 354.8h2.5v3.4h-2.5z"/>
<path fill="#6ff0c8" d="M1187.5 358.9h2.5v1.2h-2.5zM1187.5 360.9h2.5v1.2h-2.5zM1187.5 362.9h2.5v1.2h-2.5zM1187.5 366.9h2.5v1.2h-2.5zM1187.5 369.7h2.5v1.2h-2.5zM1187.5 378.4h2.5v1.2h-2.5z"/>
<path fill="#63e0a2" d="M1187.5 380h2.5v2h-2.5z"/>
<path fill="#6d3f95" d="M1187.5 382.9h2.5v1.2h-2.5z"/>
<path fill="#6ff0c8" d="M1187.5 390.4h2.5v1.2h-2.5zM1187.5 395.1h2.5v1.2h-2.5zM1200.2 332.9h2.5v1.2h-2.5z"/>
<path fill="#80ffff" d="M1200.2 338.7h2.5v2h-2.5z"/>
<path fill="#6ff0c8" d="M1200.2 348.4h2.5v1.2h-2.5zM1200.2 349.9h2.5v1.2h-2.5zM1200.2 357.2h2.5v1.2h-2.5z"/>
<path fill="#6d3f95" d="M1200.2 361.6h2.5v1.2h-2.5z"/>
<path fill="#63e0a2" d="M1200.2 367h2.5v1.6h-2.5z"/>
<path fill="#6ff0c8" d="M1200.2 377.9h2.5v1.2h-2.5zM1200.2 380.4h2.5v1.2h-2.5zM1200.2 382.4h2.5v1.2h-2.5zM1200.2 385.9h2.5v1.2h-2.5zM1200.2 387.9h2.5v1.2h-2.5zM1200.2 395.1h2.5v1.2h-2.5zM1198 354.9h5v1.2h-5zM1203.2 337.4h2.5v1.2h-2.5zM1203.2 393.9h2.5v1.2h-2.5zM1197.7 374.7h2.5v1.2h-2.5zM1197.7 384.6h2.5v1.2h-2.5zM1024 398.9h2.5v1.2h-2.5zM1024 402.7h2.5v1.2h-2.5zM1026.5 397.9h5v1.2h-5zM1026.5 401.9h5v1.2h-5zM1026.5 420.9h5v1.2h-5zM1023.7 407.1h2.5v1.2h-2.5zM1031.2 405.1h2.5v1.2h-2.5zM1034.2 407.1h2.5v1.2h-2.5zM1034.2 411.1h2.5v1.2h-2.5zM1034.2 418.7h2.5v1.2h-2.5z"/>
<path fill="#1a3a10" d="M1028.7 415.4h2.5v1.2h-2.5z"/>
<path fill="#6d3f95" d="M1028.7 432.6h2.5v1.2h-2.5z"/>
<path fill="#6ff0c8" d="M1013.9 415.4h2.4v1.2h-2.4zM1018.7 429.4h2.5v1.2h-2.5zM1026.2 432.6h2.5v1.2h-2.5zM1031.5 432.6h5.3v1.2h-5.3zM1049.2 415.4h2.5v1.2h-2.5z"/>
<path fill="#63e0a2" d="M1049.2 433.2h2.5v1.2h-2.5zM1052 429.2h5v1.6h-5zM1059.5 413.2h2.5v1.6h-2.5z"/>
<path fill="#6ff0c8" d="M1059.5 429.4h2.5v1.2h-2.5z"/>
<path fill="#63e0a2" d="M1060 404.4h5v1.6h-5z"/>
<path fill="#1a3a10" d="M1064.7 404.6h2.5v1.2h-2.5z"/>
<path fill="#6ff0c8" d="M1062.2 401.1h2.5v1.2h-2.5zM1062.2 408.7h2.5v1.2h-2.5zM1062.2 432.6h2.5v1.2h-2.5zM1067.2 418.7h2.5v1.2h-2.5zM1067.2 432.6h2.5v1.2h-2.5zM1090.5 407.1h2.5v1.2h-2.5zM1098 407.1h2.5v1.2h-2.5zM1098 432.6h2.5v1.2h-2.5zM1105.7 403.9h2.5v1.2h-2.5z"/>
<path fill="#63e0a2" d="M1105.7 410.1h2.5v1.8h-2.5z"/>
<path fill="#6ff0c8" d="M1105.7 412.9h2.5v1.2h-2.5z"/>
<path fill="#63e0a2" d="M1105.7 419.7h2.5v1.6h-2.5z"/>
<path fill="#6ff0c8" d="M1105.7 421.7h2.5v1.2h-2.5zM1105.7 429.4h2.5v1.2h-2.5z"/>
<path fill="#63e0a2" d="M1131.5 404.3h7.5v1.8h-7.5zM1151.7 398.2h2.5v3.5h-2.5z"/>
<path fill="#6ff0c8" d="M1151.7 403.9h2.5v1.2h-2.5zM1151.7 406.1h2.5v1.2h-2.5z"/>
<path fill="#6a1a6a" d="M1151.7 407.9h2.5v1.2h-2.5z"/>
<path fill="#63e0a2" d="M1151.7 413.7h2.5v1.6h-2.5z"/>
<path fill="#6ff0c8" d="M1151.7 415.9h2.5v1.2h-2.5z"/>
<path fill="#80ffff" d="M1151.7 424.4h2.5v2.6h-2.5z"/>
<path fill="#6ff0c8" d="M1151.7 433.2h2.5v1.2h-2.5zM1187.5 399.6h2.5v1.2h-2.5zM1187.5 402.7h2.5v1.2h-2.5z"/>
<path fill="#6a1a6a" d="M1187.5 411.1h2.5v1.2h-2.5z"/>
<path fill="#80ffff" d="M1187.5 414.3h2.5v2h-2.5z"/>
<path fill="#6ff0c8" d="M1187.5 419.9h2.5v1.2h-2.5z"/>
<path fill="#80ffff" d="M1187.5 428.8h2.5v2.4h-2.5z"/>
<path fill="#6ff0c8" d="M1187.5 432.6h2.5v1.2h-2.5zM1200.2 399.6h2.5v1.2h-2.5zM1200.2 402.7h2.5v1.2h-2.5zM1200.2 405.9h2.5v1.2h-2.5z"/>
<path fill="#80ffff" d="M1200.2 414.2h2.5v1.6h-2.5zM1200.2 416.2h2.5v1.6h-2.5z"/>
<path fill="#6ff0c8" d="M1200.2 419.9h2.5v1.2h-2.5zM1200.2 425.1h2.5v1.2h-2.5zM1200.2 429.9h2.5v1.2h-2.5zM1200.2 432.6h2.5v1.2h-2.5zM1026.5 435.1h7.5v1.2h-7.5zM1034.2 435.9h2.5v1.2h-2.5zM1034.2 444.2h2.5v1.2h-2.5zM1034.2 453.9h2.5v1.2h-2.5zM1026.2 438.4h2.5v1.2h-2.5zM1013.9 438.4h2.4v1.2h-2.4zM1013.9 446.6h2.4v1.2h-2.4zM1013.9 455.6h2.4v1.2h-2.4z"/>
<path fill="#63e0a2" d="M1014.2 439.7h11.8v1.6h-11.8z"/>
<path fill="#6ff0c8" d="M1023.7 441.6h2.5v1.2h-2.5zM1023.7 450.7h2.5v1.2h-2.5zM1031.2 445.9h2.5v1.2h-2.5z"/>
<path fill="#1a3a10" d="M1044.2 438.4h2.5v1.2h-2.5zM1044.2 445.9h2.5v1.2h-2.5zM1044.2 453.9h2.5v1.2h-2.5z"/>
<path fill="#6ff0c8" d="M1060 435.9h5v1.2h-5z"/>
<path fill="#80ffff" d="M1059.5 448.4h2.5v2.6h-2.5z"/>
<path fill="#63e0a2" d="M1052 452.9h5v1.6h-5z"/>
<path fill="#80ffff" d="M1062.2 455.7h2.5v1.6h-2.5z"/>
<path fill="#6ff0c8" d="M1072.4 450.7h2.5v1.2h-2.5zM1103.2 450.7h2.5v1.2h-2.5z"/>
<path fill="#1a3a10" d="M1103.2 456.6h2.5v1.2h-2.5z"/>
<path fill="#63e0a2" d="M1115.9 452.2h2.5v1.6h-2.5zM1128.7 452.2h2.5v1.6h-2.5z"/>
<path fill="#6ff0c8" d="M1133.7 450.7h2.5v1.2h-2.5z"/>
<path fill="#63e0a2" d="M1131.5 442.1h7.5v1.8h-7.5z"/>
<path fill="#6ff0c8" d="M1136.2 456.2h2.5v1.2h-2.5zM1151.7 433.7h2.5v1.2h-2.5z"/>
<path fill="#63e0a2" d="M1151.7 437.5h2.5v3h-2.5z"/>
<path fill="#80ffff" d="M1151.7 446.9h2.5v1.8h-2.5z"/>
<path fill="#6ff0c8" d="M1151.7 450.7h2.5v1.2h-2.5zM1151.7 453.9h2.5v1.2h-2.5zM1151.7 455.6h2.5v1.2h-2.5zM1187.5 438.4h2.5v1.2h-2.5zM1187.5 441.6h2.5v1.2h-2.5zM1187.5 445.1h2.5v1.2h-2.5zM1187.5 448.4h2.5v1.2h-2.5zM1187.5 453.1h2.5v1.2h-2.5z"/>
<path fill="#63e0a2" d="M1200.2 438.2h2.5v1.6h-2.5z"/>
<path fill="#80ffff" d="M1200.2 443.2h2.5v1.6h-2.5z"/>
<path fill="#6ff0c8" d="M1210.7 330.9h2.5v1.2h-2.5z"/>
<path fill="#80ffff" d="M1210.7 340.9h2.5v1.8h-2.5zM1210.7 346.1h2.5v1.8h-2.5z"/>
<path fill="#6ff0c8" d="M1210.7 360.7h2.5v1.2h-2.5zM1210.7 365.7h2.5v1.2h-2.5zM1210.7 373.9h2.5v1.2h-2.5z"/>
<path fill="#80ffff" d="M1210.7 379h2.5v2h-2.5z"/>
<path fill="#6ff0c8" d="M1210.7 381.9h2.5v1.2h-2.5zM1210.7 384.6h2.5v1.2h-2.5zM1210.7 387h2.5v1.2h-2.5z"/>
<path fill="#80ffff" d="M1210.7 390.7h2.5v1.6h-2.5z"/>
<path fill="#6ff0c8" d="M1223.2 373.9h2.5v1.2h-2.5zM1223.2 378.9h2.5v1.2h-2.5z"/>
<path fill="#63e0a2" d="M1225.7 348.2h2.5v1.6h-2.5zM1225.7 362h2.5v1.6h-2.5zM1234 348.2h5v1.6h-5zM1234 356.4h5v1.6h-5zM1234 362h5v1.6h-5zM1234 366.2h5v1.6h-5zM1234 369.5h5v1.6h-5z"/>
<path fill="#80ffff" d="M1234 393.9h5v1.8h-5z"/>
<path fill="#6ff0c8" d="M1238.7 354.9h2.5v1.2h-2.5zM1238.7 365.7h2.5v1.2h-2.5zM1238.7 396.9h2.5v1.2h-2.5z"/>
<path fill="#63e0a2" d="M1249.2 348.2h2.5v1.6h-2.5z"/>
<path fill="#6ff0c8" d="M1249.2 354.9h2.5v1.2h-2.5zM1249.2 391.1h2.5v1.2h-2.5z"/>
<path fill="#1a3a10" d="M1282.2 335.7h2.5v1.2h-2.5zM1282.2 346.6h2.5v1.2h-2.5zM1282.2 365.7h2.5v1.2h-2.5zM1292.7 334.4h2.3v1.2h-2.3z"/>
<path fill="#6ff0c8" d="M1210.7 399.6h2.5v1.2h-2.5z"/>
<path fill="#80ffff" d="M1210.7 402h2.5v2h-2.5z"/>
<path fill="#63e0a2" d="M1210.7 407.7h2.5v1.6h-2.5zM1210.7 409.4h2.5v1.2h-2.5z"/>
<path fill="#6ff0c8" d="M1210.7 415.9h2.5v1.2h-2.5z"/>
<path fill="#63e0a2" d="M1210.7 423.2h2.5v1.6h-2.5zM1225.7 399.4h2.5v1.6h-2.5z"/>
<path fill="#6ff0c8" d="M1225.7 402.7h2.5v1.2h-2.5zM1225.7 415.4h2.5v1.2h-2.5zM1225.7 429.9h2.5v1.2h-2.5z"/>
<path fill="#63e0a2" d="M1228.7 410h2.5v1.6h-2.5zM1234 399.4h5v1.6h-5z"/>
<path fill="#80ffff" d="M1234 402.7h5v2.2h-5z"/>
<path fill="#6ff0c8" d="M1234 415.4h5v1.2h-5zM1234 429.9h5v1.2h-5zM1238.7 403.9h2.5v1.2h-2.5z"/>
<path fill="#63e0a2" d="M1249.2 399.4h2.5v1.6h-2.5z"/>
<path fill="#6ff0c8" d="M1249.2 402.7h2.5v1.2h-2.5zM1249.2 415.4h2.5v1.2h-2.5z"/>
<path fill="#63e0a2" d="M1249.2 419h2.5v1.6h-2.5z"/>
<path fill="#6ff0c8" d="M1249.2 429.9h2.5v1.2h-2.5z"/>
<path fill="#63e0a2" d="M1279.7 414.1h2.5v1.8h-2.5z"/>
<path fill="#6ff0c8" d="M1210.7 440.9h2.5v1.2h-2.5z"/>
<path fill="#63e0a2" d="M1210.7 447h2.5v3h-2.5z"/>
<path fill="#6ff0c8" d="M1210.7 451.9h2.5v1.2h-2.5zM1210.7 454.9h2.5v1.2h-2.5z"/>
<path fill="#63e0a2" d="M1225.7 452.2h2.5v1.6h-2.5zM1234 452.2h5v2.6h-5z"/>
<path fill="#6ff0c8" d="M1238.7 449.1h2.5v1.2h-2.5z"/>
<path fill="#63e0a2" d="M1249.2 447.3h2.5v3h-2.5z"/>
<path fill="#6ff0c8" d="M1249.2 452.4h2.5v1.2h-2.5z"/>
<rect class="bd" x="1013.6" y="328.5" width="281.7" height="130"/>
</g>
<g>
<rect x="1312.6" y="328.3" width="282.1" height="130.4" fill="#338f1b"/>
<path fill="#821b8f" d="M1313 328.8h126.6v10.4h-126.6z"/>
<path fill="#6fbde6" d="M1340.9 330.1h4.6v1.2h-4.6z"/>
<path fill="#78e6f6" d="M1354.9 330.1h18.9v1.2h-18.9z"/>
<path fill="#7595d4" d="M1313.1 334h60.6v1.8h-60.6zM1313.1 335.7h60.6v1.4h-60.6zM1378.4 334.2h14.1v2.2h-14.1z"/>
<path fill="#3fb050" d="M1397.1 329.2h4.7v0.8h-4.7zM1397.1 332h4.7v0.8h-4.7z"/>
<path fill="#555555" d="M1397.1 334.3h4.7v1.2h-4.7z"/>
<path fill="#78e6f6" d="M1397.1 336.2h4.7v2.4h-4.7z"/>
<path fill="#6fbde6" d="M1401.9 331.8h9.4v1.2h-9.4zM1416 330.1h4.7v1.2h-4.7zM1401.9 335.8h37.6v1.2h-37.6zM1416 331.9h23.4v1h-23.4z"/>
<path fill="#7595d4" d="M1425.4 333.1h14v1.6h-14z"/>
<path fill="#78e6f6" d="M1430.1 331h4.6v1.4h-4.6zM1430.1 334.9h4.6v1.6h-4.6z"/>
<path fill="#000000" d="M1477.1 328.5h4.7v1.2h-4.7z"/>
<path fill="#1a3a10" d="M1477.1 335.7h4.7v1.2h-4.7z"/>
<path fill="#63e0a2" d="M1453.6 331.8h4.7v1.2h-4.7z"/>
<path fill="#80ffff" d="M1453.6 369.9h4.7v2h-4.7z"/>
<path fill="#6ff0c8" d="M1453.6 392.8h4.7v1.2h-4.7zM1453.6 397.8h4.7v1.2h-4.7zM1453.6 422.8h4.7v1.2h-4.7z"/>
<path fill="#63e0a2" d="M1472.4 334.2h4.7v1.4h-4.7zM1472.4 409.4h4.7v1.2h-4.7zM1481.9 334.3h4.7v1.2h-4.7zM1481.9 409.4h4.7v1.2h-4.7zM1495.9 334.3h4.7v1.2h-4.7zM1495.9 409.4h4.7v1.2h-4.7zM1524.1 334.3h4.7v1.2h-4.7zM1542.9 334.2h9.4v1.4h-9.4zM1542.9 336.5h9.4v1.2h-9.4z"/>
<path fill="#6ff0c8" d="M1542.9 345.8h9.4v1.2h-9.4z"/>
<path fill="#63e0a2" d="M1542.9 352.7h9.4v1.4h-9.4zM1542.9 354.6h9.4v1.4h-9.4zM1542.9 362.1h9.4v1.6h-9.4zM1542.9 367.9h9.4v1.4h-9.4z"/>
<path fill="#6ff0c8" d="M1542.9 370.7h9.4v1.4h-9.4z"/>
<path fill="#63e0a2" d="M1542.9 382.2h9.4v1.4h-9.4z"/>
<path fill="#6ff0c8" d="M1542.9 387h9.4v1.4h-9.4z"/>
<path fill="#80ffff" d="M1542.9 393.9h9.4v2h-9.4z"/>
<path fill="#6ff0c8" d="M1542.9 401h9.4v1.4h-9.4z"/>
<path fill="#63e0a2" d="M1542.9 412.3h9.4v1.6h-9.4zM1542.9 414.2h9.4v1.4h-9.4zM1542.9 423.3h9.4v1.4h-9.4z"/>
<path fill="#6a1a6a" d="M1542.9 358.1h4.7v1.2h-4.7z"/>
<path fill="#63e0a2" d="M1542.9 425.8h4.7v1.2h-4.7zM1547.6 358.1h4.7v1.2h-4.7zM1538.1 409.2h14.1v1.6h-14.1zM1566.4 329.3h4.7v1.2h-4.7zM1448.9 340.8h4.7v1.2h-4.7zM1448.9 390.2h4.7v1.6h-4.7zM1463 339.7h9.4v1.2h-9.4zM1463 375.6h9.4v1.4h-9.4z"/>
<path fill="#6ff0c8" d="M1463 424.9h9.4v1.4h-9.4z"/>
<path fill="#63e0a2" d="M1463 404.1h9.4v1.2h-9.4z"/>
<path fill="#80ffff" d="M1467.7 342h4.7v1.8h-4.7z"/>
<path fill="#63e0a2" d="M1467.7 350.8h4.7v1.2h-4.7zM1467.7 370.8h4.7v1.2h-4.7z"/>
<path fill="#80ffff" d="M1467.7 403.9h4.7v1.6h-4.7z"/>
<path fill="#63e0a2" d="M1467.7 416h4.7v1.2h-4.7z"/>
<path fill="#000000" d="M1401.9 344h4.7v1.2h-4.7z"/>
<path fill="#63e0a2" d="M1425.4 350h4.7v1.2h-4.7zM1434.7 350h4.7v1.2h-4.7zM1528.9 350h4.7v1.2h-4.7zM1510 359.1h4.7v1.2h-4.7zM1313.1 352.3h27.7v1.6h-27.7z"/>
<path fill="#80ffff" d="M1313.1 355h27.7v2h-27.7z"/>
<path fill="#63e0a2" d="M1313.1 408.7h27.7v1.2h-27.7z"/>
<path fill="#6ff0c8" d="M1340.9 355h42.3v1.2h-42.3z"/>
<path fill="#63e0a2" d="M1313.1 367.2h70v1.6h-70zM1313.1 404.2h70v1.6h-70z"/>
<path fill="#6ff0c8" d="M1313.1 407h70v1.4h-70zM1313.1 411h70v1.4h-70zM1313.1 415.9h70v1.4h-70z"/>
<path fill="#63e0a2" d="M1317.3 379.7h4.7v1.2h-4.7zM1317.3 426.8h4.7v1.2h-4.7zM1364.3 419.4h4.7v1.2h-4.7zM1439.4 383h9.4v1.2h-9.4zM1453.6 383.8h9.4v1.2h-9.4zM1458.3 405.1h4.7v1.2h-4.7zM1458.3 426.8h4.7v1.2h-4.7zM1524.1 409.3h9.4v1.4h-9.4zM1571.1 341.8h4.6v1.2h-4.6zM1571.1 345h4.6v1.2h-4.6zM1571.1 348.3h4.6v1.2h-4.6zM1571.1 352.5h4.6v1.2h-4.6zM1571.1 360h4.6v1.2h-4.6zM1571.1 385.7h4.6v1.2h-4.6zM1571.1 416h4.6v1.2h-4.6z"/>
<path fill="#6ff0c8" d="M1561.7 354.1h9.4v1h-9.4z"/>
<path fill="#63e0a2" d="M1561.7 415.1h9.4v1.2h-9.4z"/>
<path fill="#6ff0c8" d="M1571.1 355.6h22.4v1.4h-22.4z"/>
<path fill="#63e0a2" d="M1575.7 357.5h4.7v1.2h-4.7zM1575.7 364h4.7v1.2h-4.7zM1575.7 382.3h4.7v1.2h-4.7zM1575.7 423.4h4.7v1.2h-4.7zM1561.7 385.7h4.7v1.2h-4.7zM1561.7 417.8h4.7v1.2h-4.7zM1561.7 408.4h18.3v1.4h-18.3zM1571.1 424.8h8.9v1.6h-8.9zM1467.7 430h4.7v1.2h-4.7z"/>
<path fill="#6ff0c8" d="M1542.9 432.2h9.4v1.6h-9.4zM1542.9 437.6h9.4v1.4h-9.4z"/>
<path fill="#80ffff" d="M1542.9 432h4.7v2h-4.7z"/>
<path fill="#63e0a2" d="M1542.9 449h4.7v1.2h-4.7zM1561.7 432.3h4.7v1.4h-4.7z"/>
<path fill="#6ff0c8" d="M1463 436.8h9.4v1.2h-9.4z"/>
<path fill="#63e0a2" d="M1448.9 437.7h4.7v1.2h-4.7z"/>
<path fill="#6ff0c8" d="M1448.9 439.8h4.7v1.2h-4.7z"/>
<path fill="#63e0a2" d="M1448.9 444.8h4.7v1.2h-4.7zM1453.6 439.1h4.7v1.2h-4.7zM1453.6 441.7h4.7v1.2h-4.7zM1575.7 437.7h4.7v1.2h-4.7zM1571.1 440h4.6v1.2h-4.6zM1552.3 444.1h4.7v1.2h-4.7z"/>
<path fill="#6ff0c8" d="M1561.7 445.8h18.3v1.2h-18.3z"/>
<path fill="#63e0a2" d="M1486.6 447.4h4.7v1.2h-4.7zM1495.9 447.2h28.3v1.6h-28.3z"/>
<path fill="#1a3a10" d="M1533.6 453h4.6v1.2h-4.6z"/>
<path fill="#80ffff" d="M1313.1 456.2h27.7v1.4h-27.7z"/>
<path fill="#6ff0c8" d="M1364.3 456.3h4.7v1.2h-4.7z"/>
<path fill="#63e0a2" d="M1585.1 456.3h4.7v1.2h-4.7z"/>
<rect class="bd" x="1312.8" y="328.5" width="281.7" height="130"/>
</g>
<g>
<rect x="115.7" y="481.3" width="282.1" height="7.4" fill="#338f1b"/>
<path fill="#80ffff" d="M116.3 481.8h93.5v6.4h-93.5z"/>
<path fill="#1a3a10" d="M116.3 482.1h93.5v1h-93.5z"/>
<path fill="#63e0a2" d="M116.3 483.1h93.5v1.2h-93.5zM209.8 481.8h94v6.4h-94z"/>
<path fill="#338f1b" d="M209.8 483.8h94v0.9h-94zM209.8 486.2h94v0.7h-94z"/>
<rect class="bd" x="115.9" y="481.5" width="281.7" height="7"/>
</g>
<g>
<rect x="415" y="481.3" width="282.1" height="7.4" fill="#338f1b"/>
<path fill="#2f5f22" d="M415.6 482h281v1.7h-281z"/>
<path fill="#55e080" d="M415.6 485.7h281v1.2h-281z"/>
<rect class="bd" x="415.2" y="481.5" width="281.7" height="7"/>
</g>
<g>
<rect x="714.2" y="481.3" width="282.1" height="7.4" fill="#338f1b"/>
<path fill="#45b455" d="M855.2 481.9h10.9v0.8h-10.9z"/>
<rect class="bd" x="714.4" y="481.5" width="281.7" height="7"/>
</g>
<g>
<rect x="1013.4" y="481.3" width="282.1" height="7.4" fill="#338f1b"/>
<path fill="#80ffff" d="M1013.9 482.5h10.7v1.2h-10.7z"/>
<path fill="#6d3f95" d="M1023.7 482.6h2.5v1h-2.5z"/>
<path fill="#1a3a10" d="M1044 481.9h2.5v1h-2.5z"/>
<path fill="#6ff0c8" d="M1049.3 483.4h2.5v1h-2.5zM1062.2 482.6h2.5v1h-2.5z"/>
<path fill="#63e0a2" d="M1066.9 481.9h2.5v1h-2.5z"/>
<path fill="#6ff0c8" d="M1115.7 484.1h2.5v1h-2.5zM1101 486.6h194v1h-194z"/>
<path fill="#80ffff" d="M1131 486.6h7.9v1h-7.9zM1187.3 483.4h2.5v2.4h-2.5z"/>
<path fill="#6d3f95" d="M1210.4 482.2h2.5v1h-2.5z"/>
<path fill="#6ff0c8" d="M1225.7 485.1h2.5v1h-2.5z"/>
<path fill="#80ffff" d="M1233.9 485.2h7.1v1.6h-7.1z"/>
<path fill="#63e0a2" d="M1249 482.6h2.5v1h-2.5z"/>
<rect class="bd" x="1013.6" y="481.5" width="281.7" height="7"/>
</g>
<g>
<rect x="1312.6" y="481.3" width="282.1" height="7.4" fill="#338f1b"/>
<path fill="#6ff0c8" d="M1448.9 483.1h9.4v1h-9.4z"/>
<path fill="#80ffff" d="M1453.6 482.9h4.7v1h-4.7z"/>
<path fill="#6ff0c8" d="M1448.9 485.8h144.7v1.2h-144.7z"/>
<path fill="#5a4a5c" d="M1571.1 485.8h8.9v1.3h-8.9z"/>
<rect class="bd" x="1312.8" y="481.5" width="281.7" height="7"/>
</g>
<g>
<rect x="115.7" y="511.3" width="282.1" height="64.4" fill="#821b8f"/>
<path fill="#6fbde6" d="M116.3 517h93.5v0.9h-93.5z"/>
<path fill="#7595d4" d="M116.3 522.1h93.5v1.5h-93.5z"/>
<path fill="#78e6f6" d="M116.3 534h93.5v1.2h-93.5z"/>
<path fill="#7595d4" d="M116.3 536.5h93.5v1.2h-93.5z"/>
<path fill="#6fbde6" d="M116.3 551.2h93.5v1.4h-93.5zM116.3 572.1h93.5v1.2h-93.5z"/>
<path fill="#7595d4" d="M116.3 574.1h93.5v1h-93.5zM209.8 522.1h94v1.5h-94z"/>
<path fill="#6fbde6" d="M209.8 527.2h94v1.5h-94zM209.8 531.6h94v1h-94z"/>
<path fill="#78e6f6" d="M209.8 534h94v1.2h-94z"/>
<path fill="#7595d4" d="M209.8 536.5h94v1.2h-94z"/>
<path fill="#6fbde6" d="M209.8 545.5h94v1.2h-94zM209.8 549.1h94v1.2h-94z"/>
<path fill="#78e6f6" d="M209.8 550.8h94v1.2h-94z"/>
<path fill="#6fbde6" d="M209.8 557.8h94v1.2h-94z"/>
<path fill="#7595d4" d="M209.8 570.1h94v2h-94zM209.8 573.1h94v1h-94zM303.8 518.1h93.5v1.5h-93.5z"/>
<path fill="#6fbde6" d="M303.8 521.7h93.5v1.2h-93.5zM303.8 529.1h93.5v1.2h-93.5z"/>
<path fill="#78e6f6" d="M303.8 531.9h93.5v1.7h-93.5z"/>
<path fill="#6fbde6" d="M303.8 534.1h93.5v1h-93.5z"/>
<path fill="#7595d4" d="M303.8 540.7h93.5v2.6h-93.5z"/>
<path fill="#6fbde6" d="M303.8 549.8h93.5v1.2h-93.5z"/>
<path fill="#78e6f6" d="M303.8 553h93.5v2h-93.5z"/>
<path fill="#6fbde6" d="M303.8 555.5h93.5v1h-93.5zM303.8 559.7h93.5v1.2h-93.5zM303.8 566.1h93.5v1.2h-93.5z"/>
<path fill="#1a3a10" d="M303.8 574.1h93.5v1h-93.5z"/>
<rect class="bd" x="115.9" y="511.5" width="281.7" height="64"/>
</g>
<g>
<rect x="415" y="511.3" width="282.1" height="64.4" fill="#821b8f"/>
<path fill="#6fbde6" d="M415.6 529.8h140.4v1.6h-140.4zM415.6 553.9h140.4v1h-140.4zM415.6 557.9h140.4v1h-140.4zM415.6 564.8h140.4v1.2h-140.4zM415.6 569h140.4v1.1h-140.4zM415.6 572.1h140.4v1h-140.4z"/>
<path fill="#7595d4" d="M415.6 574.1h140.4v1h-140.4z"/>
<path fill="#6fbde6" d="M556 520.1h140.6v1h-140.6zM556 529.8h140.6v1.6h-140.6zM556 543.1h140.6v1.2h-140.6zM556 553.9h140.6v1h-140.6zM556 557.9h140.6v1h-140.6z"/>
<path fill="#7595d4" d="M556 560.3h140.6v1.6h-140.6z"/>
<path fill="#6fbde6" d="M556 564.8h140.6v1.2h-140.6zM556 569h140.6v1.1h-140.6zM556 572.1h140.6v1h-140.6z"/>
<path fill="#78e6f6" d="M556 573.8h140.6v1.2h-140.6z"/>
<rect class="bd" x="415.2" y="511.5" width="281.7" height="64"/>
</g>
<g>
<rect x="714.2" y="511.3" width="282.1" height="64.4" fill="#821b8f"/>
<path fill="#7595d4" d="M909.5 514.8h32.6v0.9h-32.6z"/>
<path fill="#6fbde6" d="M942.1 515.8h54.2v1.2h-54.2z"/>
<path fill="#7595d4" d="M801 516.9h10.9v1h-10.9zM844.4 517.3h10.8v2h-10.8zM898.7 517.8h43.4v1h-43.4z"/>
<path fill="#78e6f6" d="M714.2 519.3h119.4v1.6h-119.4zM844.4 519.3h10.8v1.6h-10.8z"/>
<path fill="#7595d4" d="M833.6 519.5h10.9v1.2h-10.9z"/>
<path fill="#78e6f6" d="M855.2 519.4h21.7v1.4h-21.7z"/>
<path fill="#6fbde6" d="M877 519.9h21.7v1h-21.7zM942.1 519h54.2v1.2h-54.2z"/>
<path fill="#7595d4" d="M844.4 521.9h10.8v1h-10.8zM844.4 525h10.8v2.5h-10.8zM942.1 526.1h54.2v4h-54.2zM714.2 528.9h10.9v2h-10.9zM779.3 528.9h65.1v2h-65.1z"/>
<path fill="#78e6f6" d="M725.1 529h54.2v1.8h-54.2z"/>
<path fill="#7595d4" d="M844.4 528.1h10.8v3h-10.8zM855.2 528.4h10.9v1h-10.9zM866.1 529.3h10.8v1.4h-10.8z"/>
<path fill="#6fbde6" d="M877 530.1h65.1v1h-65.1zM844.4 533.3h10.8v1.2h-10.8zM725.1 534.9h54.2v1h-54.2zM877 535.7h21.7v1.2h-21.7zM714.2 538h10.9v1.2h-10.9zM877 537.9h21.7v1.4h-21.7z"/>
<path fill="#78e6f6" d="M714.2 541.7h97.6v1.4h-97.6z"/>
<path fill="#6fbde6" d="M822.7 541.8h21.7v1.2h-21.7z"/>
<path fill="#555555" d="M844.4 542h10.8v1.5h-10.8z"/>
<path fill="#7595d4" d="M855.2 541.8h21.7v1.2h-21.7zM877 542.1h32.5v1.5h-32.5zM909.5 541.1h32.6v4h-32.6zM942.1 540.7h54.2v1.5h-54.2zM942.1 542.6h54.2v1h-54.2z"/>
<path fill="#6fbde6" d="M801 545.4h43.4v1.2h-43.4z"/>
<path fill="#78e6f6" d="M844.4 544.9h10.8v1.6h-10.8z"/>
<path fill="#6fbde6" d="M866.1 545.7h75.9v1.2h-75.9z"/>
<path fill="#7595d4" d="M942.1 546.6h54.2v1.6h-54.2zM714.2 547.3h10.9v1.2h-10.9z"/>
<path fill="#6fbde6" d="M714.2 550.1h119.4v1h-119.4zM844.4 550.1h21.7v1h-21.7z"/>
<path fill="#78e6f6" d="M833.6 549.8h10.9v1.6h-10.9zM866.1 549.9h10.8v1.4h-10.8z"/>
<path fill="#7595d4" d="M779.3 550.5h10.9v1.5h-10.9z"/>
<path fill="#78e6f6" d="M909.5 550.7h32.6v2h-32.6zM714.2 552.3h65.1v1.6h-65.1zM790.2 552.3h86.8v1.6h-86.8z"/>
<path fill="#3fb050" d="M779.3 552.3h10.9v1.2h-10.9zM877 553h65.1v1.2h-65.1z"/>
<path fill="#6fbde6" d="M942.1 553.8h54.2v1.2h-54.2zM909.5 554.8h10.9v1h-10.9z"/>
<path fill="#7595d4" d="M714.2 555.8h162.8v0.9h-162.8z"/>
<path fill="#78e6f6" d="M844.4 556.2h10.8v1.4h-10.8z"/>
<path fill="#7595d4" d="M877 557.1h21.7v2h-21.7z"/>
<path fill="#3fb050" d="M898.7 558.5h32.5v1.2h-32.5z"/>
<path fill="#78e6f6" d="M931.2 558.1h10.9v1.6h-10.9z"/>
<path fill="#7595d4" d="M714.2 562h162.8v1.5h-162.8z"/>
<path fill="#78e6f6" d="M877 561.5h21.7v1.6h-21.7z"/>
<path fill="#3fb050" d="M898.7 561.5h43.4v1.2h-43.4z"/>
<path fill="#6fbde6" d="M714.2 563.8h195.3v1.2h-195.3z"/>
<path fill="#7595d4" d="M714.2 565h10.9v2h-10.9zM714.2 566.9h86.8v1h-86.8zM942.1 566.1h54.2v1.6h-54.2zM714.2 569.8h184.5v1h-184.5z"/>
<path fill="#78e6f6" d="M898.7 568.9h43.4v1.6h-43.4z"/>
<path fill="#6fbde6" d="M942.1 568.4h54.2v1h-54.2z"/>
<path fill="#555555" d="M942.1 572.1h54.2v1.2h-54.2z"/>
<path fill="#78e6f6" d="M779.3 573.7h10.9v1.2h-10.9z"/>
<path fill="#7595d4" d="M714.2 574.1h162.8v1h-162.8z"/>
<rect class="bd" x="714.4" y="511.5" width="281.7" height="64"/>
</g>
<g>
<rect x="1013.4" y="511.3" width="282.1" height="64.4" fill="#821b8f"/>
<path fill="#6fbde6" d="M1026.5 512.9h7.5v1.2h-7.5zM1026.5 521.9h7.5v1.2h-7.5z"/>
<path fill="#7595d4" d="M1026.5 524.1h7.5v1.4h-7.5z"/>
<path fill="#78e6f6" d="M1026.5 544h7.5v2h-7.5z"/>
<path fill="#7595d4" d="M1026.5 554.6h7.5v1.2h-7.5zM1026.5 557h7.5v1.4h-7.5z"/>
<path fill="#6fbde6" d="M1026.5 558.9h7.5v1.2h-7.5z"/>
<path fill="#7595d4" d="M1037 513.2h5v2.5h-5zM1037 518.2h5v1.2h-5z"/>
<path fill="#78e6f6" d="M1037 520.7h5v2h-5z"/>
<path fill="#6fbde6" d="M1037 528.4h5v1.8h-5z"/>
<path fill="#7595d4" d="M1037 562.4h5v1.2h-5z"/>
<path fill="#78e6f6" d="M1037 569.3h5v3h-5z"/>
<path fill="#7595d4" d="M1065 513.7h15v1.6h-15z"/>
<path fill="#78e6f6" d="M1065 520.7h15v2h-15z"/>
<path fill="#7595d4" d="M1065 527.3h15v1.4h-15z"/>
<path fill="#78e6f6" d="M1101 513.6h41v1.8h-41zM1101 565.4h41v1.6h-41zM1101 571.7h41v2.6h-41z"/>
<path fill="#6fbde6" d="M1142 513.9h56v1.2h-56zM1142 519.1h56v1.4h-56zM1014.2 514.9h12.3v1.2h-12.3zM1014.2 519.2h12.3v1.2h-12.3zM1014.2 530.8h12.3v1.4h-12.3z"/>
<path fill="#78e6f6" d="M1014.2 534.9h12.3v2.2h-12.3zM1014.2 538.2h12.3v2h-12.3zM1014.2 552.8h12.3v2.4h-12.3z"/>
<path fill="#7595d4" d="M1014.2 555.9h12.3v1.6h-12.3z"/>
<path fill="#6fbde6" d="M1014.2 559.3h12.3v1.4h-12.3zM1014.2 562.4h12.3v1.2h-12.3z"/>
<path fill="#7595d4" d="M1014.2 570.2h12.3v1.6h-12.3z"/>
<path fill="#3fb050" d="M1018.5 535.8h2.5v1.2h-2.5z"/>
<path fill="#7595d4" d="M1083 514.9h10v1.2h-10z"/>
<path fill="#6fbde6" d="M1083 531.7h10v1.2h-10z"/>
<path fill="#3fb050" d="M1083 544.2h10v1.2h-10z"/>
<path fill="#78e6f6" d="M1093 514.7h7.5v2h-7.5z"/>
<path fill="#7595d4" d="M1093 534.4h7.5v1.6h-7.5z"/>
<path fill="#78e6f6" d="M1093 535.5h7.5v2h-7.5zM1037 515.9h15v1.2h-15z"/>
<path fill="#3fb050" d="M1052 515.9h5v1.2h-5z"/>
<path fill="#78e6f6" d="M1057 515.9h5v1.2h-5z"/>
<path fill="#7595d4" d="M1065 515.9h10v1.2h-10zM1065 517.9h10v1.2h-10zM1065 542.3h10v1.4h-10zM1065 543.2h10v2.5h-10zM1065 560.5h10v3h-10zM1065 567.2h10v1.6h-10z"/>
<path fill="#78e6f6" d="M1065 569.8h10v1.8h-10z"/>
<path fill="#3fb050" d="M1075 517.1h5v1.2h-5z"/>
<path fill="#7595d4" d="M1075 531.7h5v1.2h-5zM1075 549.9h5v1.2h-5zM1075 552.1h5v1.2h-5z"/>
<path fill="#555555" d="M1075 561.9h5v1.4h-5z"/>
<path fill="#6fbde6" d="M1075 568.6h5v1.2h-5z"/>
<path fill="#3fb050" d="M1095.5 516.6h5v1.2h-5z"/>
<path fill="#7595d4" d="M1095.5 547h5v1.6h-5z"/>
<path fill="#78e6f6" d="M1095.5 552.6h5v1.2h-5z"/>
<path fill="#7595d4" d="M1081 517h9v3h-9z"/>
<path fill="#555555" d="M1026.5 518h5v1.6h-5zM1026.5 561.2h5v1.6h-5z"/>
<path fill="#7595d4" d="M1031.5 518.2h2.5v1.2h-2.5z"/>
<path fill="#78e6f6" d="M1098 519.9h3v1.2h-3z"/>
<path fill="#6fbde6" d="M1098 543.1h3v1.2h-3zM1098 556.9h3v1.2h-3z"/>
<path fill="#78e6f6" d="M1098 573.6h3v1.2h-3z"/>
<path fill="#6fbde6" d="M1101 519.1h97v1.4h-97z"/>
<path fill="#78e6f6" d="M1180 519.4h5v1.8h-5z"/>
<path fill="#6fbde6" d="M1180 525.9h5v1.2h-5zM1180 529h5v1.4h-5zM1180 538h5v1.6h-5zM1180 546.2h5v1.6h-5z"/>
<path fill="#7595d4" d="M1180 555.7h5v2h-5z"/>
<path fill="#6fbde6" d="M1180 570.2h5v1.2h-5z"/>
<path fill="#78e6f6" d="M1080 520h13v2h-13zM1080 570.7h13v2h-13z"/>
<path fill="#6fbde6" d="M1042 521.2h17.5v1h-17.5z"/>
<path fill="#7595d4" d="M1101 521.2h12v1h-12zM1101 523.2h12v1.6h-12z"/>
<path fill="#000000" d="M1159.5 521.1h2.5v1.2h-2.5z"/>
<path fill="#6fbde6" d="M1165 521.1h2v1.2h-2z"/>
<path fill="#7595d4" d="M1093 523.2h5v1.6h-5zM1093 527.2h5v1.6h-5z"/>
<path fill="#78e6f6" d="M1093 543.9h5v1.2h-5z"/>
<path fill="#7595d4" d="M1093 544.9h5v1.2h-5zM1093 562h5v1.2h-5zM1167 524h10.5v1.6h-10.5z"/>
<path fill="#78e6f6" d="M1167 548.4h10.5v2.2h-10.5z"/>
<path fill="#7595d4" d="M1167 549.2h10.5v5h-10.5zM1167 558.1h10.5v1.4h-10.5z"/>
<path fill="#78e6f6" d="M1167 562.7h10.5v1.6h-10.5z"/>
<path fill="#7595d4" d="M1167 562.9h10.5v5h-10.5z"/>
<path fill="#6fbde6" d="M1182.5 524.2h2.5v1.2h-2.5zM1182.5 553.9h2.5v1.2h-2.5zM1182.5 558.4h2.5v1.6h-2.5zM1182.5 564.9h2.5v1.2h-2.5z"/>
<path fill="#3fb050" d="M1182.5 570.9h2.5v1.2h-2.5z"/>
<path fill="#000000" d="M1182.5 572.1h2.5v1.8h-2.5z"/>
<path fill="#6fbde6" d="M1080 527h2.5v1.6h-2.5z"/>
<path fill="#7595d4" d="M1080 539.2h2.5v1.2h-2.5zM1080 540.9h2.5v1.2h-2.5zM1080 564.7h2.5v1.2h-2.5zM1101 527.1h15v1.8h-15zM1119 527.1h28v1.8h-28z"/>
<path fill="#78e6f6" d="M1070 528.7h2.5v1.2h-2.5z"/>
<path fill="#7595d4" d="M1070 532.3h2.5v1.4h-2.5zM1070 552.1h2.5v1.2h-2.5z"/>
<path fill="#78e6f6" d="M1070 564.1h2.5v1.8h-2.5z"/>
<path fill="#6fbde6" d="M1077.5 529.9h2.5v1.2h-2.5zM1077.5 534.2h2.5v1.2h-2.5zM1091 529.9h50.5v1.2h-50.5z"/>
<path fill="#7595d4" d="M1039.5 532.1h10v1.8h-10zM1039.5 551.9h10v1.6h-10z"/>
<path fill="#6fbde6" d="M1039.5 564.6h10v1.2h-10z"/>
<path fill="#78e6f6" d="M1095.5 533.7h2.5v1h-2.5z"/>
<path fill="#555555" d="M1095.5 569.6h2.5v1.2h-2.5z"/>
<path fill="#6fbde6" d="M1095.5 572.2h2.5v1.2h-2.5zM1034 534.2h2.8v1.2h-2.8z"/>
<path fill="#7595d4" d="M1034 543h2.8v2h-2.8z"/>
<path fill="#6fbde6" d="M1034 545.7h2.8v1.2h-2.8zM1034 550.7h2.8v1.2h-2.8zM1034 561.4h2.8v1.2h-2.8z"/>
<path fill="#78e6f6" d="M1034 563.4h2.8v1.6h-2.8z"/>
<path fill="#6fbde6" d="M1034 569.9h2.8v1.2h-2.8z"/>
<path fill="#7595d4" d="M1083 535.9h7.5v1.2h-7.5zM1083 547h7.5v1.6h-7.5zM1083 565.5h7.5v1.6h-7.5z"/>
<path fill="#6fbde6" d="M1108.5 538h2.5v1.6h-2.5z"/>
<path fill="#7595d4" d="M1108.5 540.9h2.5v1.2h-2.5z"/>
<path fill="#6fbde6" d="M1124 538h2.5v1.6h-2.5z"/>
<path fill="#7595d4" d="M1205.5 538.2h2.5v1.2h-2.5z"/>
<path fill="#6fbde6" d="M1026.5 538.7h10.3v1h-10.3z"/>
<path fill="#7595d4" d="M1037 542.3h25v1.4h-25zM1037 543.2h25v2.5h-25z"/>
<path fill="#78e6f6" d="M1037 555.6h25v2.2h-25z"/>
<path fill="#7595d4" d="M1037 560h25v2h-25zM1037 566.8h25v2h-25z"/>
<path fill="#78e6f6" d="M1075 543.3h8v2.4h-8z"/>
<path fill="#6fbde6" d="M1019 545.7h7v1.2h-7z"/>
<path fill="#78e6f6" d="M1019 562.2h7v1.2h-7z"/>
<path fill="#6fbde6" d="M1090.5 549.9h2.5v1.2h-2.5z"/>
<path fill="#78e6f6" d="M1101 550.1h10v1.4h-10zM1101 554.6h10v1.2h-10z"/>
<path fill="#6fbde6" d="M1111 550.6h30.5v1.2h-30.5z"/>
<path fill="#7595d4" d="M1159.5 549.9h7.5v1.2h-7.5zM1159.5 572.2h7.5v1.2h-7.5zM1177.5 549.9h2.5v1.2h-2.5zM1177.5 572.2h2.5v1.2h-2.5z"/>
<path fill="#78e6f6" d="M1080 552.5h5v2h-5z"/>
<path fill="#3fb050" d="M1081 552.1h2v1.2h-2z"/>
<path fill="#78e6f6" d="M1101 553h40.5v1h-40.5z"/>
<path fill="#3fb050" d="M1101 553.6h40.5v1.2h-40.5z"/>
<path fill="#7595d4" d="M1101 567.5h40.5v1.6h-40.5z"/>
<path fill="#6fbde6" d="M1142 553.2h25v1.2h-25z"/>
<path fill="#7595d4" d="M1159.5 554.5h20.5v1.4h-20.5z"/>
<path fill="#555555" d="M1067.5 555.8h7.5v1.8h-7.5z"/>
<path fill="#7595d4" d="M1067.5 559.4h7.5v1.2h-7.5z"/>
<path fill="#6fbde6" d="M1065 556.1h2.5v1.2h-2.5z"/>
<path fill="#78e6f6" d="M1075 555.7h18v2h-18z"/>
<path fill="#7595d4" d="M1075 560h18v2h-18z"/>
<path fill="#6fbde6" d="M1093 556.9h2.5v1.2h-2.5zM1093 570.9h2.5v1.2h-2.5z"/>
<path fill="#7595d4" d="M1014.2 566.1h19.8v1.4h-19.8z"/>
<path fill="#6fbde6" d="M1142 565.6h2v1.2h-2z"/>
<path fill="#78e6f6" d="M1037 568.5h22.5v1.4h-22.5zM1042 570.6h20v1.8h-20zM1101 569.8h14v2h-14zM1117 570.6h25v1.8h-25z"/>
<path fill="#6fbde6" d="M1142 570.9h5v1.2h-5z"/>
<path fill="#3fb050" d="M1167 572.1h10.5v1.4h-10.5z"/>
<path fill="#6fbde6" d="M1195.5 564.9h2.5v1.2h-2.5z"/>
<path fill="#78e6f6" d="M1208.5 512.5h2.5v2h-2.5zM1208.5 518.6h2.5v1.2h-2.5z"/>
<path fill="#6fbde6" d="M1208.5 534.9h2.5v1.2h-2.5zM1208.5 543.9h2.5v1.2h-2.5z"/>
<path fill="#78e6f6" d="M1208.5 555.4h2.5v1.2h-2.5z"/>
<path fill="#6fbde6" d="M1208.5 560.2h2.5v1.6h-2.5zM1200.5 514h10.5v1.4h-10.5zM1200.5 519.1h10.5v1.4h-10.5zM1213.5 514h81v1.4h-81z"/>
<path fill="#000000" d="M1238.9 515.9h2.5v1.2h-2.5zM1238.9 519.2h2.5v1.2h-2.5zM1238.9 523.9h2.5v1.2h-2.5z"/>
<path fill="#4c1556" d="M1238.9 526h2.5v5h-2.5z"/>
<path fill="#000000" d="M1238.9 550.6h2.5v1.2h-2.5zM1238.9 555.9h2.5v1.2h-2.5z"/>
<path fill="#4c1556" d="M1238.9 559.5h2.5v9h-2.5z"/>
<path fill="#000000" d="M1238.9 547.4h2.5v1.2h-2.5z"/>
<path fill="#7595d4" d="M1221 516.8h5v1.4h-5zM1221 522.2h5v1.6h-5z"/>
<path fill="#78e6f6" d="M1221 534h5v2h-5z"/>
<path fill="#3fb050" d="M1221 536.6h5v1.2h-5z"/>
<path fill="#7595d4" d="M1221 542.9h5v1.6h-5z"/>
<path fill="#6fbde6" d="M1213.5 519.1h25.5v1.4h-25.5zM1242 519.1h52.5v1.4h-52.5z"/>
<path fill="#7595d4" d="M1208.5 520.4h58.5v1.2h-58.5z"/>
<path fill="#78e6f6" d="M1267 520.7h27.5v2.2h-27.5zM1267 528.3h27.5v2h-27.5z"/>
<path fill="#6fbde6" d="M1267 530.8h27.5v1.4h-27.5z"/>
<path fill="#78e6f6" d="M1267 533.1h27.5v2.2h-27.5z"/>
<path fill="#6fbde6" d="M1267 539.1h27.5v1.4h-27.5z"/>
<path fill="#7595d4" d="M1267 552.5h27.5v1h-27.5z"/>
<path fill="#6fbde6" d="M1267 559.4h27.5v1.6h-27.5zM1267 562.8h27.5v1.4h-27.5zM1210.9 524.2h2.5v1.2h-2.5zM1236.4 524.2h2.5v1.2h-2.5zM1236.4 538.2h2.5v1.2h-2.5z"/>
<path fill="#7595d4" d="M1256.9 524.2h2.5v1.2h-2.5zM1256.9 538.2h2.5v1.2h-2.5zM1256.9 570.2h2.5v1.2h-2.5zM1267 524.1h8v1.4h-8zM1267 570h8v1.6h-8z"/>
<path fill="#000000" d="M1264.4 528.2h2.5v1.2h-2.5z"/>
<path fill="#3fb050" d="M1264.4 572.9h2.5v1.2h-2.5z"/>
<path fill="#7595d4" d="M1228.5 533.8h5.5v1.4h-5.5zM1228.5 536.6h5.5v1.2h-5.5zM1228.5 542.9h5.5v1.6h-5.5zM1228.5 546.3h5.5v1.4h-5.5z"/>
<path fill="#6fbde6" d="M1239 533.8h28v1.4h-28z"/>
<path fill="#7595d4" d="M1241.5 536.3h25.5v1.4h-25.5z"/>
<path fill="#78e6f6" d="M1267 535.8h18v2h-18z"/>
<path fill="#3fb050" d="M1285 536h9.5v1.4h-9.5z"/>
<path fill="#78e6f6" d="M1285 545.5h9.5v2h-9.5z"/>
<path fill="#6fbde6" d="M1205.9 538.2h2.5v1.2h-2.5zM1239 542.7h55.5v1.6h-55.5zM1241.5 546.3h43.5v1.4h-43.5z"/>
<path fill="#3fb050" d="M1238.9 545.9h2.5v1.2h-2.5z"/>
<path fill="#6fbde6" d="M1198 550h41v1.4h-41zM1241.5 550h53v1.4h-53zM1198 554.4h96.5v1.6h-96.5zM1198 572.1h96.5v1.4h-96.5z"/>
<path fill="#78e6f6" d="M1221 564.5h2.5v2h-2.5z"/>
<path fill="#7595d4" d="M1223.5 564.7h71v3h-71z"/>
<rect class="bd" x="1013.6" y="511.5" width="281.7" height="64"/>
</g>
<g>
<rect x="1312.6" y="511.3" width="282.1" height="64.4" fill="#821b8f"/>
<path fill="#6fbde6" d="M1340.9 512.8h4.6v1.2h-4.6zM1340.9 558h4.6v1.2h-4.6z"/>
<path fill="#7595d4" d="M1354.9 513.5h4.7v1.2h-4.7zM1397.1 518.2h4.7v1.4h-4.7z"/>
<path fill="#6fbde6" d="M1397.1 534h4.7v1.2h-4.7z"/>
<path fill="#78e6f6" d="M1397.1 549.9h4.7v1.4h-4.7z"/>
<path fill="#555555" d="M1401.9 518.2h37.6v1.4h-37.6z"/>
<path fill="#6fbde6" d="M1401.9 567.9h37.6v1h-37.6z"/>
<path fill="#7595d4" d="M1411.3 518.2h4.7v1.4h-4.7zM1420.7 526.5h4.7v1.2h-4.7z"/>
<path fill="#78e6f6" d="M1420.7 567h4.7v1.4h-4.7z"/>
<path fill="#7595d4" d="M1420.7 572.3h4.7v1.2h-4.7z"/>
<path fill="#78e6f6" d="M1430.1 549.8h4.6v1.6h-4.6z"/>
<path fill="#6fbde6" d="M1313.1 537.9h60.6v1.6h-60.6zM1313.1 552h60.6v1.4h-60.6zM1378.4 537.9h14.1v1.6h-14.1zM1378.4 552h14.1v1.4h-14.1zM1397.1 537.9h42.3v1.6h-42.3z"/>
<path fill="#7595d4" d="M1397.1 552h28.3v1.4h-28.3z"/>
<path fill="#6fbde6" d="M1313.1 543.1h4.1v1.2h-4.1z"/>
<path fill="#7595d4" d="M1439.4 513.9h9.4v1.4h-9.4z"/>
<path fill="#6fbde6" d="M1439.4 515.7h9.4v1.4h-9.4z"/>
<path fill="#555555" d="M1439.4 521.6h9.4v1.4h-9.4z"/>
<path fill="#6fbde6" d="M1439.4 525.1h9.4v1h-9.4z"/>
<path fill="#78e6f6" d="M1439.4 533.3h9.4v2h-9.4z"/>
<path fill="#555555" d="M1439.4 537.2h9.4v1.6h-9.4z"/>
<path fill="#6fbde6" d="M1439.4 540h9.4v1.2h-9.4z"/>
<path fill="#7595d4" d="M1439.4 543.1h9.4v1.2h-9.4z"/>
<path fill="#78e6f6" d="M1439.4 548.1h9.4v2h-9.4z"/>
<path fill="#7595d4" d="M1439.4 555.3h9.4v1.4h-9.4zM1439.4 556.9h9.4v1.6h-9.4z"/>
<path fill="#6fbde6" d="M1439.4 560.3h9.4v1.6h-9.4zM1439.4 573.7h9.4v1.2h-9.4zM1448.9 525.1h9.4v1h-9.4z"/>
<path fill="#7595d4" d="M1448.9 536.3h9.4v1.6h-9.4z"/>
<path fill="#6fbde6" d="M1448.9 544h9.4v1.2h-9.4z"/>
<path fill="#78e6f6" d="M1448.9 554.8h9.4v1.8h-9.4z"/>
<path fill="#6fbde6" d="M1453.6 531.9h9.4v1h-9.4z"/>
<path fill="#3fb050" d="M1458.3 512.6h4.7v1h-4.7z"/>
<path fill="#78e6f6" d="M1458.3 515.3h4.7v2h-4.7z"/>
<path fill="#6fbde6" d="M1458.3 521.7h4.7v1.2h-4.7z"/>
<path fill="#78e6f6" d="M1458.3 525h4.7v2h-4.7zM1458.3 529.1h4.7v2h-4.7zM1458.3 540.8h4.7v2.4h-4.7zM1458.3 546.6h4.7v1.6h-4.7z"/>
<path fill="#6fbde6" d="M1458.3 552.1h4.7v1.2h-4.7z"/>
<path fill="#7595d4" d="M1458.3 569.5h4.7v1.6h-4.7zM1458.3 571.4h4.7v1.2h-4.7z"/>
<path fill="#6fbde6" d="M1463 512.7h130.6v1.4h-130.6zM1463 535.8h130.6v1.2h-130.6zM1463 550.5h130.6v1.6h-130.6z"/>
<path fill="#7595d4" d="M1463 546.1h79.1v2h-79.1zM1552.3 546.1h41.3v2h-41.3z"/>
<path fill="#6fbde6" d="M1458.3 562.7h135.3v1.4h-135.3zM1458.3 573.6h135.3v1.4h-135.3zM1472.4 523.1h46.9v1.6h-46.9zM1472.4 531.7h46.9v1.4h-46.9zM1472.4 538.9h46.9v1.4h-46.9zM1472.4 543h46.9v1.4h-46.9z"/>
<path fill="#3fb050" d="M1486.6 531h4.7v0.8h-4.7zM1486.6 512.3h4.7v0.8h-4.7z"/>
<path fill="#6fbde6" d="M1486.6 568.8h4.7v1.2h-4.7z"/>
<path fill="#78e6f6" d="M1500.6 549.8h18.7v1.6h-18.7zM1514.7 543.5h4.6v1.6h-4.6zM1514.7 552.5h4.6v1.6h-4.6z"/>
<path fill="#6fbde6" d="M1514.7 556.2h4.6v1.4h-4.6z"/>
<path fill="#78e6f6" d="M1514.7 563.8h4.6v1.6h-4.6z"/>
<path fill="#7595d4" d="M1514.7 565.7h4.6v1.2h-4.6zM1463 557h32.9v1.4h-32.9z"/>
<path fill="#6fbde6" d="M1458.3 558.9h14.1v1h-14.1zM1495.9 558.8h4.7v1.2h-4.7zM1472.4 568.8h9.4v1.2h-9.4z"/>
<path fill="#7595d4" d="M1481.9 572.1h4.7v1.2h-4.7z"/>
<path fill="#6fbde6" d="M1547.6 513.5h4.7v1.2h-4.7z"/>
<path fill="#7595d4" d="M1547.6 567.1h4.7v1.2h-4.7zM1547.6 569.7h4.7v1.2h-4.7zM1561.7 519h9.4v1.2h-9.4z"/>
<path fill="#6fbde6" d="M1575.7 519h17.9v1.2h-17.9zM1580.4 515h4.7v1.2h-4.7z"/>
<path fill="#78e6f6" d="M1580.4 518.2h4.7v1.4h-4.7z"/>
<path fill="#6fbde6" d="M1580.4 521.7h4.7v1.2h-4.7z"/>
<path fill="#555555" d="M1580.4 523.3h4.7v1.6h-4.7z"/>
<path fill="#6fbde6" d="M1580.4 525.8h4.7v1.2h-4.7z"/>
<path fill="#78e6f6" d="M1580.4 531.9h4.7v1.6h-4.7z"/>
<path fill="#7595d4" d="M1580.4 536.8h4.7v1.2h-4.7zM1580.4 539h4.7v1.2h-4.7z"/>
<path fill="#6fbde6" d="M1580.4 543.1h4.7v1.2h-4.7z"/>
<path fill="#7595d4" d="M1580.4 569.7h4.7v1.2h-4.7zM1580.4 561.2h9.4v1.6h-9.4z"/>
<rect class="bd" x="1312.8" y="511.5" width="281.7" height="64"/>
</g>
<g>
<rect x="1617.9" y="22.1" width="105.3" height="103.7" fill="#338f1b" stroke="#2d8315" stroke-width="0.7"/>
<rect x="1617.9" y="22.1" width="1.4" height="103.7" fill="#821b8f"/>
<path fill="#821b8f" d="M1617.9 22.1h4.1v1.5h-4.1zM1617.9 26.4h2.1v1.5h-2.1zM1617.9 30.7h3.1v1.5h-3.1zM1617.9 35.3h7v1.5h-7zM1617.9 38.7h8.2v1.5h-8.2zM1617.9 40.2h3.1v1.5h-3.1zM1617.9 44.5h2.2v1.5h-2.2zM1617.9 48.7h2.1v1.5h-2.1zM1617.9 55.6h2.4v1.5h-2.4zM1617.9 59.1h3.1v3.1h-3.1zM1617.9 67.1h3.9v1.5h-3.9zM1617.9 74.8h2.1v1.5h-2.1zM1617.9 79.4h3.9v1.5h-3.9zM1617.9 80.9h2.8v1.5h-2.8zM1617.9 84h2.1v1.5h-2.1zM1617.9 87.4h2.8v1.5h-2.8zM1617.9 93.5h10.8v1.5h-10.8zM1617.9 97h2.2v1.5h-2.2zM1617.9 100.1h3.6v1.5h-3.6zM1617.9 102.7h7.1v1.5h-7.1zM1617.9 106.2h1.8v5.4h-1.8zM1617.9 118h6.4v1.5h-6.4zM1617.9 119.6h3.6v1.2h-3.6zM1617.9 123.1h2.5v2.8h-2.5z"/>
</g>
<g>
<rect x="1617.1" y="149.3" width="105.2" height="31.4" fill="#338f1b" stroke="#2d8315" stroke-width="0.7"/>
<rect x="1617.1" y="149.3" width="1.4" height="31.4" fill="#821b8f"/>
<path fill="#821b8f" d="M1617.1 149.5h4.5v2.1h-4.5zM1617.1 152.2h2.1v1.2h-2.1zM1617.1 154.3h2.4v1.2h-2.4zM1617.1 157.4h3.6v1.2h-3.6zM1617.1 158.9h3v1.2h-3zM1617.1 160.7h3.9v1.2h-3.9zM1617.1 162.5h3v1.2h-3zM1617.1 164.6h3.3v1.2h-3.3zM1617.1 167.6h3.8v1.2h-3.8zM1617.1 169.7h2.7v1.2h-2.7zM1617.1 171.8h6.1v1.2h-6.1zM1617.1 173.9h3.3v1.2h-3.3zM1617.1 175.7h3.6v1.2h-3.6zM1617.1 177.5h2.4v1.2h-2.4zM1617.1 179.4h3.6v1.2h-3.6z"/>
</g>
<g>
<rect x="1617.2" y="200.3" width="105.3" height="103.8" fill="#338f1b" stroke="#2d8315" stroke-width="0.7"/>
<rect x="1617.2" y="200.3" width="1.4" height="103.8" fill="#821b8f"/>
<path fill="#821b8f" d="M1617.2 200.7h8.9v1.6h-8.9zM1617.2 202.2h15.9v1.6h-15.9zM1617.2 203.8h15.1v5.5h-15.1zM1617.2 209.3h16.7v1.6h-16.7zM1617.2 210.8h14.3v1.6h-14.3zM1617.2 212.4h1.8v2h-1.8zM1617.2 214.4h6.5v1.6h-6.5zM1617.2 215.5h14.3v6.2h-14.3zM1617.2 216.3h15.1v1.6h-15.1zM1617.2 221.8h8.9v1.6h-8.9zM1617.2 223.3h15.1v1.6h-15.1zM1617.2 224.9h14.3v1.6h-14.3zM1617.2 226.4h8.9v1.6h-8.9zM1617.2 228h13.9v1.6h-13.9zM1617.2 229.6h1.8v3.1h-1.8zM1617.2 232.7h8.9v1.6h-8.9zM1617.2 234.3h16.2v2.7h-16.2zM1617.2 236.9h8.9v2h-8.9zM1617.2 238.9h1.4v10.1h-1.4zM1617.2 242.1h1.8v1.6h-1.8zM1617.2 244.4h2.1v1.6h-2.1zM1617.2 249.1h12.8v1.6h-12.8zM1617.2 251.4h8.9v1.6h-8.9zM1617.2 254.6h2.6v2.3h-2.6zM1617.2 258.5h1.8v1.6h-1.8zM1617.2 266.3h6v1.1h-6zM1617.2 268.9h14.6v1.6h-14.6zM1617.2 271h1.8v3.1h-1.8zM1617.2 275.8h4.5v1.6h-4.5zM1617.2 281.1h15.1v4.2h-15.1zM1617.2 285.8h2.6v1.6h-2.6zM1617.2 288.9h2.3v1.6h-2.3zM1617.2 292.8h2.6v1.6h-2.6zM1617.2 297.5h2.9v1.6h-2.9zM1617.2 302.2h1.8v1.9h-1.8z"/>
</g>
<g>
<rect x="1617.4" y="328.2" width="105.4" height="132.4" fill="#338f1b" stroke="#2d8315" stroke-width="0.7"/>
<rect x="1617.4" y="328.2" width="1.4" height="132.4" fill="#821b8f"/>
<path fill="#821b8f" d="M1617.4 328.8h2.3v1.9h-2.3zM1617.4 331.7h1.9v1.5h-1.9zM1617.4 334h6.1v1.5h-6.1zM1617.4 340.9h13.8v1.3h-13.8zM1617.4 342.2h15.3v1.9h-15.3zM1617.4 344.1h16.1v1.9h-16.1zM1617.4 348h2.7v1.3h-2.7zM1617.4 351.8h2.3v1.9h-2.3zM1617.4 355.6h14.4v1.3h-14.4zM1617.4 359.5h3.2v1.9h-3.2zM1617.4 361.4h2.3v1.9h-2.3zM1617.4 370h1.9v1.9h-1.9zM1617.4 374.2h5.1v1.5h-5.1zM1617.4 375.8h3.2v1.9h-3.2zM1617.4 380.6h2.7v4.8h-2.7zM1617.4 388.8h13.8v1.3h-13.8zM1617.4 390.2h11.9v1.3h-11.9zM1617.4 394h2.3v3.8h-2.3zM1617.4 401.7h2.7v3.8h-2.7zM1617.4 406.5h3.2v1.9h-3.2zM1617.4 410.7h5.7v1.2h-5.7zM1617.4 412.6h5.1v1.5h-5.1zM1617.4 415.1h2.3v1.3h-2.3zM1617.4 417.4h4.6v1.5h-4.6zM1617.4 420.9h2.7v1.9h-2.7zM1617.4 422.8h5.1v1.3h-5.1zM1617.4 424.7h15.1v1.3h-15.1zM1617.4 429.5h2.3v1.2h-2.3zM1617.4 434.9h2.7v1.3h-2.7zM1617.4 438.3h10.9v1.3h-10.9zM1617.4 439.7h14.2v1.3h-14.2zM1617.4 441.4h3.2v1.2h-3.2zM1617.4 446.7h2.3v1.9h-2.3zM1617.4 451.5h1.9v1.9h-1.9zM1617.4 456.3h3.2v1.9h-3.2zM1617.4 458.8h4.2v1.7h-4.2z"/>
</g>
<g>
<rect x="1617.3" y="480.5" width="105.1" height="8.6" fill="#338f1b" stroke="#2d8315" stroke-width="0.7"/>
<rect x="1617.3" y="480.5" width="1.4" height="8.6" fill="#821b8f"/>
<path fill="#821b8f" d="M1617.4 481.5h2.9v4.2h-2.9zM1617.4 486.1h9.7v1.8h-9.7zM1617.4 487.6h20.2v1.5h-20.2z"/>
</g>
<g>
<rect x="1617.6" y="513.5" width="103.3" height="63.6" fill="#821b8f"/>
<path fill="#338f1b" d="M1712.3 513.5h8.6v2h-8.6zM1719.3 515.5h1.6v2.3h-1.6zM1717.5 517.7h3.4v1.6h-3.4zM1715.3 519.2h5.6v2.3h-5.6zM1714.5 521.5h6.4v2.3h-6.4zM1719 523.8h1.9v2.3h-1.9zM1713 526h7.9v2.3h-7.9zM1716 528.3h4.9v2.3h-4.9zM1717.5 530.5h3.4v1.6h-3.4zM1716.8 532h4.1v1.6h-4.1zM1716 533.6h4.9v2.3h-4.9zM1717.5 535.8h3.4v2.3h-3.4zM1714.5 538.1h6.4v2.3h-6.4zM1719.8 540.3h1.1v2.3h-1.1zM1719.3 542.6h1.6v2.3h-1.6zM1719.8 544.9h1.1v2.3h-1.1zM1716.8 547.1h4.1v2.3h-4.1zM1714.5 549.4h6.4v2.3h-6.4zM1716 551.6h4.9v2.3h-4.9zM1714.5 553.9h6.4v2.3h-6.4zM1711.5 556.2h9.4v2.3h-9.4zM1716 558.4h4.9v2.3h-4.9zM1714.5 560.7h6.4v2.3h-6.4zM1717.5 562.9h3.4v2.3h-3.4zM1719.8 565.2h1.1v2.3h-1.1zM1720.2 567.5h0.7v2.3h-0.7zM1718.3 569.7h2.6v2.3h-2.6zM1716 572h4.9v2.3h-4.9zM1713.8 574.3h7.1v1.6h-7.1zM1708.5 575.8h12.4v1.6h-12.4z"/>
<path fill="#77438a" d="M1707 519.6h8.4v0.8h-8.4zM1708.5 526.7h7.2v0.8h-7.2zM1693.4 530.9h19.3v0.8h-19.3zM1699.4 534.2h14.5v0.8h-14.5zM1705.5 538.7h9.6v0.8h-9.6zM1711.5 545.7h4.8v0.8h-4.8zM1708.5 550.2h7.2v0.8h-7.2zM1710 552.4h6v0.8h-6zM1703.2 559.1h11.5v0.8h-11.5zM1704 563.6h10.9v0.8h-10.9zM1700.2 564.8h13.9v0.8h-13.9zM1702.5 565.9h12.1v0.8h-12.1zM1702.5 568.3h12.1v0.8h-12.1zM1705.5 570.4h9.6v0.8h-9.6z"/>
</g>
<g>
<g class="ln"><path d="M116 599.2L230.6 692.8"/><path d="M210 599.2L230.8 692.8"/><path d="M304 599.2L258.2 692.8"/></g>
<path class="ax" d="M115.7 599.2H397.8"/>
<path class="ax" d="M115.7 692.8H397.8"/>
<path class="tk" d="M116 692.8v5.1M236.4 692.8v5.1M356.8 692.8v5.1"/>
<text class="t" x="116" y="712.1" text-anchor="middle">0</text>
<text class="t" x="236.4" y="712.1" text-anchor="middle">1</text>
<text class="t" x="356.8" y="712.1" text-anchor="middle">2</text>
<text class="t" x="398.1" y="728.8" text-anchor="end">1e7</text>
</g>
<g>
<g class="ln"><path d="M415.3 599.2L448 692.8"/><path d="M556 599.2L448.3 692.8"/></g>
<path class="ax" d="M415 599.2H697.1"/>
<path class="ax" d="M415 692.8H697.1"/>
<path class="tk" d="M415.3 692.8v5.1M469.5 692.8v5.1M523.3 692.8v5.1M577.3 692.8v5.1M631.3 692.8v5.1M685.3 692.8v5.1"/>
<text class="t" x="415.3" y="712.1" text-anchor="middle">0</text>
<text class="t" x="469.5" y="712.1" text-anchor="middle">1</text>
<text class="t" x="523.3" y="712.1" text-anchor="middle">2</text>
<text class="t" x="577.3" y="712.1" text-anchor="middle">3</text>
<text class="t" x="631.3" y="712.1" text-anchor="middle">4</text>
<text class="t" x="685.3" y="712.1" text-anchor="middle">5</text>
<text class="t" x="697.4" y="728.8" text-anchor="end">1e7</text>
</g>
<g>
<g class="ln"><path d="M714.2 599.2L789.3 692.8"/><path d="M725.1 599.2L789.5 692.8"/><path d="M735.9 599.2L789.8 692.8"/><path d="M746.8 599.2L790 692.8"/><path d="M757.6 599.2L790.2 692.8"/><path d="M768.5 599.2L790.4 692.8"/><path d="M779.3 599.2L790.7 692.8"/><path d="M790.2 599.2L790.9 692.8"/><path d="M801 599.2L791.1 692.8"/><path d="M811.9 599.2L791.4 692.8"/><path d="M822.7 599.2L791.6 692.8"/><path d="M833.6 599.2L791.8 692.8"/><path d="M844.4 599.2L792.1 692.8"/><path d="M855.2 599.2L792.3 692.8"/><path d="M866.1 599.2L792.5 692.8"/><path d="M877 599.2L792.7 692.8"/><path d="M887.8 599.2L793 692.8"/><path d="M898.7 599.2L793.2 692.8"/><path d="M909.5 599.2L815.3 692.8"/><path d="M920.4 599.2L815.6 692.8"/><path d="M931.2 599.2L815.9 692.8"/><path d="M942.1 599.2L816.2 692.8"/><path d="M952.9 599.2L816.6 692.8"/><path d="M963.8 599.2L816.9 692.8"/><path d="M974.6 599.2L817.2 692.8"/><path d="M985.5 599.2L817.5 692.8"/></g>
<path class="ax" d="M714.2 599.2H996.3"/>
<path class="ax" d="M714.2 692.8H996.3"/>
<path class="tk" d="M714.5 692.8v5.1M783.5 692.8v5.1M852.5 692.8v5.1M921.5 692.8v5.1M990 692.8v5.1"/>
<text class="t" x="714.5" y="712.1" text-anchor="middle">0</text>
<text class="t" x="783.5" y="712.1" text-anchor="middle">1</text>
<text class="t" x="852.5" y="712.1" text-anchor="middle">2</text>
<text class="t" x="921.5" y="712.1" text-anchor="middle">3</text>
<text class="t" x="990" y="712.1" text-anchor="middle">4</text>
<text class="t" x="996.6" y="728.8" text-anchor="end">1e7</text>
</g>
<g>
<g class="ln"><path d="M1013.4 599.2L1066.6 692.8"/><path d="M1015.9 599.2L1066.8 692.8"/><path d="M1018.5 599.2L1067.1 692.8"/><path d="M1021 599.2L1067.3 692.8"/><path d="M1023.6 599.2L1067.6 692.8"/><path d="M1026.1 599.2L1067.8 692.8"/><path d="M1028.6 599.2L1083.9 692.8"/><path d="M1031.2 599.2L1084.2 692.8"/><path d="M1033.7 599.2L1084.5 692.8"/><path d="M1036.3 599.2L1138.6 692.8"/><path d="M1038.8 599.2L1142.6 692.8"/><path d="M1041.4 599.2L1142.7 692.8"/><path d="M1043.9 599.2L1142.8 692.8"/><path d="M1046.4 599.2L1143 692.8"/><path d="M1049 599.2L1143.1 692.8"/><path d="M1051.5 599.2L1143.2 692.8"/><path d="M1054.1 599.2L1143.3 692.8"/><path d="M1056.6 599.2L1143.4 692.8"/><path d="M1059.1 599.2L1143.6 692.8"/><path d="M1061.7 599.2L1143.7 692.8"/><path d="M1064.2 599.2L1143.8 692.8"/><path d="M1066.8 599.2L1143.9 692.8"/><path d="M1069.3 599.2L1144.4 692.8"/><path d="M1071.9 599.2L1144.5 692.8"/><path d="M1074.4 599.2L1144.6 692.8"/><path d="M1076.9 599.2L1144.8 692.8"/><path d="M1079.5 599.2L1144.9 692.8"/><path d="M1082 599.2L1145 692.8"/><path d="M1084.6 599.2L1145.1 692.8"/><path d="M1087.1 599.2L1145.8 692.8"/><path d="M1089.6 599.2L1146 692.8"/><path d="M1092.2 599.2L1146.2 692.8"/><path d="M1094.7 599.2L1146.3 692.8"/><path d="M1097.3 599.2L1146.5 692.8"/><path d="M1099.8 599.2L1146.7 692.8"/><path d="M1102.4 599.2L1234.9 692.8"/><path d="M1104.9 599.2L1234.9 692.8"/><path d="M1107.4 599.2L1235 692.8"/><path d="M1110 599.2L1235 692.8"/><path d="M1112.5 599.2L1235.1 692.8"/><path d="M1115.1 599.2L1235.1 692.8"/><path d="M1117.6 599.2L1235.2 692.8"/><path d="M1120.1 599.2L1235.2 692.8"/><path d="M1122.7 599.2L1235.3 692.8"/><path d="M1125.2 599.2L1235.3 692.8"/><path d="M1127.8 599.2L1235.4 692.8"/><path d="M1130.3 599.2L1235.4 692.8"/><path d="M1132.8 599.2L1235.5 692.8"/><path d="M1135.4 599.2L1235.5 692.8"/><path d="M1137.9 599.2L1235.6 692.8"/><path d="M1140.5 599.2L1235.6 692.8"/><path d="M1143 599.2L1235.7 692.8"/><path d="M1145.6 599.2L1235.7 692.8"/><path d="M1148.1 599.2L1235.8 692.8"/><path d="M1150.6 599.2L1235.8 692.8"/><path d="M1153.2 599.2L1235.9 692.8"/><path d="M1155.7 599.2L1235.9 692.8"/><path d="M1158.3 599.2L1236 692.8"/><path d="M1160.8 599.2L1236 692.8"/><path d="M1163.3 599.2L1236.1 692.8"/><path d="M1165.9 599.2L1236.1 692.8"/><path d="M1168.4 599.2L1236.1 692.8"/><path d="M1171 599.2L1236.2 692.8"/><path d="M1173.5 599.2L1236.2 692.8"/><path d="M1176.1 599.2L1236.3 692.8"/><path d="M1178.6 599.2L1236.3 692.8"/><path d="M1181.1 599.2L1236.4 692.8"/><path d="M1183.7 599.2L1236.4 692.8"/><path d="M1186.2 599.2L1236.5 692.8"/><path d="M1188.8 599.2L1236.5 692.8"/><path d="M1191.3 599.2L1236.6 692.8"/><path d="M1193.8 599.2L1236.6 692.8"/><path d="M1196.4 599.2L1236.7 692.8"/><path d="M1198.9 599.2L1236.7 692.8"/><path d="M1201.5 599.2L1236.8 692.8"/><path d="M1204 599.2L1236.8 692.8"/><path d="M1206.5 599.2L1236.9 692.8"/><path d="M1209.1 599.2L1236.9 692.8"/><path d="M1211.6 599.2L1237 692.8"/><path d="M1214.2 599.2L1237 692.8"/><path d="M1216.7 599.2L1237.1 692.8"/><path d="M1219.3 599.2L1237.1 692.8"/><path d="M1221.8 599.2L1237.2 692.8"/><path d="M1224.3 599.2L1237.2 692.8"/><path d="M1226.9 599.2L1237.3 692.8"/><path d="M1229.4 599.2L1237.3 692.8"/><path d="M1232 599.2L1237.3 692.8"/><path d="M1234.5 599.2L1237.4 692.8"/><path d="M1237 599.2L1237.4 692.8"/><path d="M1239.6 599.2L1237.5 692.8"/><path d="M1242.1 599.2L1237.5 692.8"/><path d="M1244.7 599.2L1237.6 692.8"/><path d="M1247.2 599.2L1237.6 692.8"/><path d="M1249.8 599.2L1237.7 692.8"/><path d="M1252.3 599.2L1237.7 692.8"/><path d="M1254.8 599.2L1237.8 692.8"/><path d="M1257.4 599.2L1237.8 692.8"/><path d="M1259.9 599.2L1237.9 692.8"/><path d="M1262.5 599.2L1237.9 692.8"/><path d="M1265 599.2L1238 692.8"/><path d="M1267.5 599.2L1238 692.8"/><path d="M1270.1 599.2L1238.1 692.8"/><path d="M1272.6 599.2L1238.1 692.8"/><path d="M1275.2 599.2L1238.2 692.8"/><path d="M1277.7 599.2L1238.2 692.8"/><path d="M1280.3 599.2L1238.3 692.8"/><path d="M1282.8 599.2L1238.3 692.8"/><path d="M1285.3 599.2L1238.4 692.8"/><path d="M1287.9 599.2L1238.4 692.8"/><path d="M1290.4 599.2L1238.5 692.8"/><path d="M1293 599.2L1238.5 692.8"/></g>
<path class="ax" d="M1013.4 599.2H1295.5"/>
<path class="ax" d="M1013.4 692.8H1295.5"/>
<path class="tk" d="M1013.7 692.8v5.1M1060.4 692.8v5.1M1107.1 692.8v5.1M1153.8 692.8v5.1M1200.6 692.8v5.1M1247.3 692.8v5.1M1294 692.8v5.1"/>
<text class="t" x="1013.7" y="712.1" text-anchor="middle">0</text>
<text class="t" x="1060.4" y="712.1" text-anchor="middle">1</text>
<text class="t" x="1107.1" y="712.1" text-anchor="middle">2</text>
<text class="t" x="1153.8" y="712.1" text-anchor="middle">3</text>
<text class="t" x="1200.6" y="712.1" text-anchor="middle">4</text>
<text class="t" x="1247.3" y="712.1" text-anchor="middle">5</text>
<text class="t" x="1294" y="712.1" text-anchor="middle">6</text>
<text class="t" x="1295.8" y="728.8" text-anchor="end">1e7</text>
</g>
<g>
<g class="ln"><path d="M1312.6 599.2L1323.7 692.8"/><path d="M1317.3 599.2L1323.9 692.8"/><path d="M1322 599.2L1324.2 692.8"/><path d="M1326.7 599.2L1324.4 692.8"/><path d="M1331.4 599.2L1324.6 692.8"/><path d="M1336.1 599.2L1324.8 692.8"/><path d="M1340.8 599.2L1325.1 692.8"/><path d="M1345.5 599.2L1325.3 692.8"/><path d="M1350.2 599.2L1325.5 692.8"/><path d="M1354.9 599.2L1325.7 692.8"/><path d="M1359.6 599.2L1326 692.8"/><path d="M1364.3 599.2L1326.2 692.8"/><path d="M1369 599.2L1327.3 692.8"/><path d="M1373.7 599.2L1327.4 692.8"/><path d="M1378.4 599.2L1327.6 692.8"/><path d="M1383.1 599.2L1327.7 692.8"/><path d="M1387.8 599.2L1327.8 692.8"/><path d="M1392.5 599.2L1328 692.8"/><path d="M1397.2 599.2L1328.1 692.8"/><path d="M1401.9 599.2L1328.2 692.8"/><path d="M1406.6 599.2L1328.4 692.8"/><path d="M1411.3 599.2L1328.5 692.8"/><path d="M1416 599.2L1328.7 692.8"/><path d="M1420.7 599.2L1328.8 692.8"/><path d="M1425.4 599.2L1328.9 692.8"/><path d="M1430.1 599.2L1329.1 692.8"/><path d="M1434.8 599.2L1329.2 692.8"/><path d="M1439.5 599.2L1378.3 692.8"/><path d="M1444.2 599.2L1379.7 692.8"/><path d="M1448.9 599.2L1571 692.8"/><path d="M1453.6 599.2L1571.5 692.8"/><path d="M1458.4 599.2L1572 692.8"/><path d="M1463.1 599.2L1581.3 692.8"/><path d="M1467.8 599.2L1581.4 692.8"/><path d="M1472.5 599.2L1581.5 692.8"/><path d="M1477.2 599.2L1581.6 692.8"/><path d="M1481.9 599.2L1581.8 692.8"/><path d="M1486.6 599.2L1581.9 692.8"/><path d="M1491.3 599.2L1582 692.8"/><path d="M1496 599.2L1582.1 692.8"/><path d="M1500.7 599.2L1582.2 692.8"/><path d="M1505.4 599.2L1582.3 692.8"/><path d="M1510.1 599.2L1582.4 692.8"/><path d="M1514.8 599.2L1582.6 692.8"/><path d="M1519.5 599.2L1582.7 692.8"/><path d="M1524.2 599.2L1582.8 692.8"/><path d="M1528.9 599.2L1582.9 692.8"/><path d="M1533.6 599.2L1583 692.8"/><path d="M1538.3 599.2L1583.1 692.8"/><path d="M1543 599.2L1583.3 692.8"/><path d="M1547.7 599.2L1583.4 692.8"/><path d="M1552.4 599.2L1583.5 692.8"/><path d="M1557.1 599.2L1583.6 692.8"/><path d="M1561.8 599.2L1583.7 692.8"/><path d="M1566.5 599.2L1583.8 692.8"/><path d="M1571.2 599.2L1583.9 692.8"/><path d="M1575.9 599.2L1584.1 692.8"/><path d="M1580.6 599.2L1584.2 692.8"/><path d="M1585.3 599.2L1584.3 692.8"/><path d="M1590 599.2L1584.4 692.8"/></g>
<path class="ax" d="M1312.6 599.2H1594.7"/>
<path class="ax" d="M1312.6 692.8H1594.7"/>
<path class="tk" d="M1313 692.8v5.1M1370.7 692.8v5.1M1428.7 692.8v5.1M1486.7 692.8v5.1M1544.7 692.8v5.1"/>
<text class="t" x="1313" y="712.1" text-anchor="middle">0</text>
<text class="t" x="1370.7" y="712.1" text-anchor="middle">1</text>
<text class="t" x="1428.7" y="712.1" text-anchor="middle">2</text>
<text class="t" x="1486.7" y="712.1" text-anchor="middle">3</text>
<text class="t" x="1544.7" y="712.1" text-anchor="middle">4</text>
<text class="t" x="1595" y="728.8" text-anchor="end">1e7</text>
</g>
<text x="1856" y="70.9" class="b" style="font-size:25.2px">Genotype</text>
<rect x="1827.2" y="88.8" width="17.8" height="17.3" fill="#000"/>
<text class="lg" x="1856" y="105.9" style="fill:#000">MISS</text>
<rect x="1827.2" y="120.8" width="17.8" height="17.3" fill="#338f1b"/>
<text class="lg" x="1856" y="137.9" style="fill:#338f1b">GA</text>
<rect x="1827.2" y="153" width="17.8" height="17.3" fill="#80ffff"/>
<text class="lg" x="1856" y="170" style="fill:#80ffff">GA/gcx1-GM</text>
<rect x="1827.2" y="187.2" width="17.8" height="17.3" fill="#821b8f"/>
<text class="lg" x="1856" y="203" style="fill:#821b8f">gcx1-GM</text>
</svg></body></html>
